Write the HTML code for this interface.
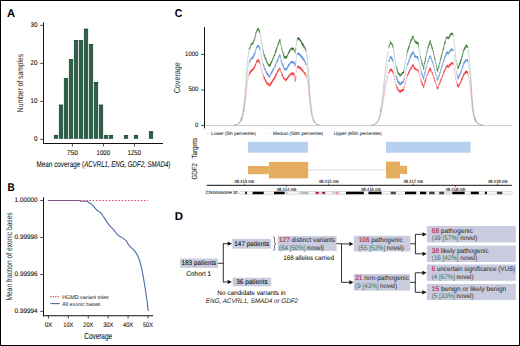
<!DOCTYPE html>
<html><head><meta charset="utf-8"><style>
html,body{margin:0;padding:0;background:#fff;}
body{width:520px;height:346px;overflow:hidden;}
svg{display:block;}
text{font-family:"Liberation Sans", sans-serif;text-rendering:geometricPrecision;}
</style></head><body>
<svg width="520" height="346" viewBox="0 0 520 346">
<rect x="0" y="0" width="520" height="346" fill="#fff"/>
<text x="7.00" y="16.60" font-size="11.3" textLength="8.10" lengthAdjust="spacingAndGlyphs" fill="#000" font-weight="bold">A</text>
<line x1="43.50" y1="22.40" x2="43.50" y2="144.00" stroke="#111" stroke-width="1.0"/>
<line x1="43.00" y1="143.50" x2="163.00" y2="143.50" stroke="#111" stroke-width="1.0"/>
<line x1="40.20" y1="25.40" x2="43.50" y2="25.40" stroke="#222" stroke-width="0.8"/>
<text x="37.40" y="26.80" font-size="6.8" stroke="#2a2a2a" stroke-width="0.08" textLength="6.90" lengthAdjust="spacingAndGlyphs" text-anchor="end">30</text>
<line x1="40.20" y1="63.40" x2="43.50" y2="63.40" stroke="#222" stroke-width="0.8"/>
<text x="37.40" y="64.80" font-size="6.8" stroke="#2a2a2a" stroke-width="0.08" textLength="6.90" lengthAdjust="spacingAndGlyphs" text-anchor="end">20</text>
<line x1="40.20" y1="101.40" x2="43.50" y2="101.40" stroke="#222" stroke-width="0.8"/>
<text x="37.40" y="102.80" font-size="6.8" stroke="#2a2a2a" stroke-width="0.08" textLength="6.90" lengthAdjust="spacingAndGlyphs" text-anchor="end">10</text>
<line x1="40.20" y1="139.40" x2="43.50" y2="139.40" stroke="#222" stroke-width="0.8"/>
<text x="37.40" y="140.80" font-size="6.8" stroke="#2a2a2a" stroke-width="0.08" textLength="3.45" lengthAdjust="spacingAndGlyphs" text-anchor="end">0</text>
<line x1="72.40" y1="143.50" x2="72.40" y2="146.50" stroke="#222" stroke-width="0.8"/>
<text x="72.30" y="154.50" font-size="6.9" stroke="#2a2a2a" stroke-width="0.08" textLength="11.00" lengthAdjust="spacingAndGlyphs" text-anchor="middle">750</text>
<line x1="103.40" y1="143.50" x2="103.40" y2="146.50" stroke="#222" stroke-width="0.8"/>
<text x="103.30" y="154.50" font-size="6.9" stroke="#2a2a2a" stroke-width="0.08" textLength="13.40" lengthAdjust="spacingAndGlyphs" text-anchor="middle">1000</text>
<line x1="134.40" y1="143.50" x2="134.40" y2="146.50" stroke="#222" stroke-width="0.8"/>
<text x="134.30" y="154.50" font-size="6.9" stroke="#2a2a2a" stroke-width="0.08" textLength="13.60" lengthAdjust="spacingAndGlyphs" text-anchor="middle">1250</text>
<text x="36.50" y="166.80" font-size="8.4" stroke="#2a2a2a" stroke-width="0.05" textLength="47.60" lengthAdjust="spacingAndGlyphs">Mean coverage (</text>
<text x="84.30" y="166.80" font-size="8.4" stroke="#2a2a2a" stroke-width="0.05" textLength="84.00" lengthAdjust="spacingAndGlyphs" font-style="italic">ACVRL1, ENG, GDF2, SMAD4</text>
<text x="168.30" y="166.80" font-size="8.4" stroke="#2a2a2a" stroke-width="0.05" textLength="2.20" lengthAdjust="spacingAndGlyphs">)</text>
<text x="23.20" y="112.20" font-size="8.4" stroke="#333" stroke-width="0.05" textLength="58.40" lengthAdjust="spacingAndGlyphs" fill="#333" transform="rotate(-90 23.20 112.20)">Number of samples</text>
<rect x="53.90" y="135.10" width="4.20" height="3.80" fill="#30604a"/>
<rect x="53.90" y="135.10" width="4.20" height="0.80" fill="#1f5039"/>
<rect x="58.90" y="104.73" width="4.20" height="34.17" fill="#30604a"/>
<rect x="58.90" y="104.73" width="4.20" height="0.80" fill="#1f5039"/>
<rect x="63.90" y="78.15" width="4.20" height="60.75" fill="#30604a"/>
<rect x="63.90" y="78.15" width="4.20" height="0.80" fill="#1f5039"/>
<rect x="68.90" y="59.16" width="4.20" height="79.74" fill="#30604a"/>
<rect x="68.90" y="59.16" width="4.20" height="0.80" fill="#1f5039"/>
<rect x="73.90" y="40.18" width="4.20" height="98.72" fill="#30604a"/>
<rect x="73.90" y="40.18" width="4.20" height="0.80" fill="#1f5039"/>
<rect x="78.90" y="40.18" width="4.20" height="98.72" fill="#30604a"/>
<rect x="78.90" y="40.18" width="4.20" height="0.80" fill="#1f5039"/>
<rect x="83.90" y="28.79" width="4.20" height="110.11" fill="#30604a"/>
<rect x="83.90" y="28.79" width="4.20" height="0.80" fill="#1f5039"/>
<rect x="88.90" y="43.98" width="4.20" height="94.92" fill="#30604a"/>
<rect x="88.90" y="43.98" width="4.20" height="0.80" fill="#1f5039"/>
<rect x="93.90" y="81.94" width="4.20" height="56.96" fill="#30604a"/>
<rect x="93.90" y="81.94" width="4.20" height="0.80" fill="#1f5039"/>
<rect x="98.90" y="104.73" width="4.20" height="34.17" fill="#30604a"/>
<rect x="98.90" y="104.73" width="4.20" height="0.80" fill="#1f5039"/>
<rect x="103.90" y="135.10" width="4.20" height="3.80" fill="#30604a"/>
<rect x="103.90" y="135.10" width="4.20" height="0.80" fill="#1f5039"/>
<rect x="108.90" y="135.10" width="4.20" height="3.80" fill="#30604a"/>
<rect x="108.90" y="135.10" width="4.20" height="0.80" fill="#1f5039"/>
<rect x="123.90" y="135.10" width="4.20" height="3.80" fill="#30604a"/>
<rect x="123.90" y="135.10" width="4.20" height="0.80" fill="#1f5039"/>
<rect x="133.90" y="135.10" width="4.20" height="3.80" fill="#30604a"/>
<rect x="133.90" y="135.10" width="4.20" height="0.80" fill="#1f5039"/>
<rect x="148.90" y="131.31" width="4.20" height="7.59" fill="#30604a"/>
<rect x="148.90" y="131.31" width="4.20" height="0.80" fill="#1f5039"/>
<text x="7.40" y="191.30" font-size="11.3" textLength="7.20" lengthAdjust="spacingAndGlyphs" fill="#000" font-weight="bold">B</text>
<line x1="43.50" y1="197.40" x2="43.50" y2="316.40" stroke="#111" stroke-width="1.0"/>
<line x1="43.00" y1="315.80" x2="153.10" y2="315.80" stroke="#111" stroke-width="1.1"/>
<line x1="40.20" y1="200.50" x2="43.50" y2="200.50" stroke="#222" stroke-width="0.8"/>
<text x="37.50" y="201.90" font-size="6.6" stroke="#2a2a2a" stroke-width="0.08" textLength="22.90" lengthAdjust="spacingAndGlyphs" text-anchor="end">1.00000</text>
<line x1="40.20" y1="237.50" x2="43.50" y2="237.50" stroke="#222" stroke-width="0.8"/>
<text x="37.50" y="238.90" font-size="6.6" stroke="#2a2a2a" stroke-width="0.08" textLength="22.90" lengthAdjust="spacingAndGlyphs" text-anchor="end">0.99998</text>
<line x1="40.20" y1="274.50" x2="43.50" y2="274.50" stroke="#222" stroke-width="0.8"/>
<text x="37.50" y="275.90" font-size="6.6" stroke="#2a2a2a" stroke-width="0.08" textLength="22.90" lengthAdjust="spacingAndGlyphs" text-anchor="end">0.99996</text>
<line x1="40.20" y1="311.40" x2="43.50" y2="311.40" stroke="#222" stroke-width="0.8"/>
<text x="37.50" y="312.80" font-size="6.6" stroke="#2a2a2a" stroke-width="0.08" textLength="22.90" lengthAdjust="spacingAndGlyphs" text-anchor="end">0.99994</text>
<line x1="48.45" y1="315.80" x2="48.45" y2="318.60" stroke="#222" stroke-width="0.8"/>
<text x="48.45" y="326.80" font-size="6.6" stroke="#2a2a2a" stroke-width="0.08" textLength="7.60" lengthAdjust="spacingAndGlyphs" text-anchor="middle">0X</text>
<line x1="68.35" y1="315.80" x2="68.35" y2="318.60" stroke="#222" stroke-width="0.8"/>
<text x="68.35" y="326.80" font-size="6.6" stroke="#2a2a2a" stroke-width="0.08" textLength="10.00" lengthAdjust="spacingAndGlyphs" text-anchor="middle">10X</text>
<line x1="88.25" y1="315.80" x2="88.25" y2="318.60" stroke="#222" stroke-width="0.8"/>
<text x="88.25" y="326.80" font-size="6.6" stroke="#2a2a2a" stroke-width="0.08" textLength="10.00" lengthAdjust="spacingAndGlyphs" text-anchor="middle">20X</text>
<line x1="108.15" y1="315.80" x2="108.15" y2="318.60" stroke="#222" stroke-width="0.8"/>
<text x="108.15" y="326.80" font-size="6.6" stroke="#2a2a2a" stroke-width="0.08" textLength="10.00" lengthAdjust="spacingAndGlyphs" text-anchor="middle">30X</text>
<line x1="128.05" y1="315.80" x2="128.05" y2="318.60" stroke="#222" stroke-width="0.8"/>
<text x="128.05" y="326.80" font-size="6.6" stroke="#2a2a2a" stroke-width="0.08" textLength="10.00" lengthAdjust="spacingAndGlyphs" text-anchor="middle">40X</text>
<line x1="147.95" y1="315.80" x2="147.95" y2="318.60" stroke="#222" stroke-width="0.8"/>
<text x="147.95" y="326.80" font-size="6.6" stroke="#2a2a2a" stroke-width="0.08" textLength="10.00" lengthAdjust="spacingAndGlyphs" text-anchor="middle">50X</text>
<text x="84.30" y="339.40" font-size="8.8" stroke="#2a2a2a" stroke-width="0.08" textLength="27.70" lengthAdjust="spacingAndGlyphs">Coverage</text>
<text x="12.10" y="300.50" font-size="8.4" stroke="#333" stroke-width="0.03" textLength="88.20" lengthAdjust="spacingAndGlyphs" fill="#333" transform="rotate(-90 12.10 300.50)">Mean fraction of exonic bases</text>
<path d="M48.10,200.50 L79.00,200.50 L80.50,201.20 L86.20,201.30 L87.70,201.80 L90.00,203.20 L92.00,204.60 L94.20,207.20 L96.40,209.70 L99.00,211.60 L101.30,213.30 L103.00,216.00 L105.00,218.90 L107.00,222.20 L109.40,225.30 L111.50,227.60 L113.70,229.60 L115.50,232.30 L117.50,234.60 L119.20,236.00 L121.00,236.90 L123.50,238.60 L126.10,240.60 L127.20,242.60 L128.20,244.30 L131.00,247.30 L133.90,250.10 L136.20,253.20 L138.30,257.10 L139.80,261.20 L141.20,266.60 L142.40,272.00 L143.50,278.20 L144.60,284.80 L145.60,291.00 L146.60,298.00 L147.40,304.00 L148.00,309.00 L148.40,311.20" fill="none" stroke="#4a6aa3" stroke-width="1.1" stroke-linejoin="round"/>
<line x1="47.90" y1="200.50" x2="147.80" y2="200.50" stroke="#d23a52" stroke-width="1.1" stroke-dasharray="1.4 1.8"/>
<line x1="50.40" y1="296.60" x2="60.00" y2="296.60" stroke="#d23a52" stroke-width="1.1" stroke-dasharray="1.2 1.2"/>
<line x1="50.40" y1="303.60" x2="59.80" y2="303.60" stroke="#4a6aa3" stroke-width="1.1"/>
<text x="62.20" y="298.50" font-size="5.3" stroke="#333" stroke-width="0.05" textLength="46.40" lengthAdjust="spacingAndGlyphs" fill="#333">HGMD variant sites</text>
<text x="62.20" y="305.60" font-size="5.3" stroke="#333" stroke-width="0.05" textLength="38.30" lengthAdjust="spacingAndGlyphs" fill="#333">All exonic bases</text>
<text x="174.70" y="16.80" font-size="11.3" textLength="7.60" lengthAdjust="spacingAndGlyphs" fill="#000" font-weight="bold">C</text>
<line x1="204.50" y1="27.20" x2="204.50" y2="128.40" stroke="#111" stroke-width="1.0"/>
<line x1="201.00" y1="54.40" x2="204.50" y2="54.40" stroke="#222" stroke-width="0.8"/>
<text x="198.40" y="55.60" font-size="6.5" stroke="#2a2a2a" stroke-width="0.08" textLength="13.30" lengthAdjust="spacingAndGlyphs" text-anchor="end">1000</text>
<line x1="201.00" y1="90.00" x2="204.50" y2="90.00" stroke="#222" stroke-width="0.8"/>
<text x="198.40" y="91.20" font-size="6.5" stroke="#2a2a2a" stroke-width="0.08" textLength="10.00" lengthAdjust="spacingAndGlyphs" text-anchor="end">500</text>
<line x1="201.00" y1="125.40" x2="204.50" y2="125.40" stroke="#222" stroke-width="0.8"/>
<text x="198.40" y="126.60" font-size="6.5" stroke="#2a2a2a" stroke-width="0.08" textLength="3.30" lengthAdjust="spacingAndGlyphs" text-anchor="end">0</text>
<text x="180.10" y="93.30" font-size="8.6" stroke="#333" stroke-width="0.04" textLength="31.00" lengthAdjust="spacingAndGlyphs" fill="#333" transform="rotate(-90 180.10 93.30)">Coverage</text>
<defs><clipPath id="cu"><rect x="200" y="0" width="320" height="112"/></clipPath><clipPath id="cl"><rect x="200" y="112" width="320" height="20"/></clipPath></defs>
<line x1="205.60" y1="125.60" x2="512.70" y2="125.60" stroke="#c2c8c4" stroke-width="0.9"/>
<path d="M241.6,121.6 L241.8,119.5 L242.1,119.8 M249.3,74.3 L249.6,75.4 L249.8,73.0 L250.1,73.9 L250.3,72.0 L250.6,73.3 L250.8,71.1 L251.1,72.8 L251.3,70.7 L251.6,72.2 L251.8,70.4 L252.1,71.2 L252.3,70.0 L252.6,71.1 L252.8,69.7 L253.1,70.6 L253.3,69.1 L253.6,70.2 L253.8,68.3 L254.1,69.3 L254.3,67.2 L254.6,68.5 L254.8,66.5 L255.1,66.9 L255.3,65.1 L255.6,66.3 L255.8,63.9 L256.1,63.8 L256.4,62.6 L256.6,63.1 L256.9,61.2 L257.1,63.0 L257.4,61.3 L257.6,62.4 L257.9,60.6 L258.1,62.1 L258.4,60.2 L258.6,61.6 L258.9,60.4 L259.1,63.0 L259.4,61.9 L259.6,63.5 M263.9,77.2 L264.1,79.4 L264.4,77.9 L264.6,80.1 L264.9,79.5 L265.1,81.0 L265.4,80.2 L265.6,82.4 L265.9,81.3 L266.1,83.2 L266.4,82.0 L266.6,83.8 L266.9,83.3 L267.1,84.8 L267.4,83.5 L267.6,84.8 L267.9,83.7 L268.1,85.4 L268.4,84.1 L268.6,85.9 L268.9,85.0 L269.1,86.8 L269.4,85.5 L269.6,86.5 L269.9,85.3 L270.1,86.3 L270.4,84.1 L270.6,85.6 L270.9,83.3 L271.1,85.0 L271.4,82.7 L271.6,83.9 L271.9,81.9 L272.1,82.9 L272.4,81.6 L272.6,82.5 L272.9,80.4 L273.1,81.6 L273.4,79.7 L273.6,80.7 L273.9,78.9 L274.1,80.3 L274.4,78.0 L274.6,79.3 L274.9,77.2 L275.1,78.5 L275.4,76.0 L275.6,77.3 L275.9,74.9 L276.1,76.2 L276.4,74.2 L276.6,74.9 L276.9,73.4 L277.1,74.1 L277.4,72.2 L277.6,72.8 L277.9,70.9 L278.1,72.1 L278.4,70.4 L278.6,71.5 L278.9,69.9 L279.1,70.8 L279.4,68.9 L279.6,69.4 L279.9,68.4 L280.1,70.4 L280.4,70.2 M281.9,74.1 L282.1,76.6 L282.4,75.2 L282.6,77.2 L282.9,76.2 L283.1,78.1 L283.4,77.7 L283.6,79.2 L283.9,78.2 L284.1,80.0 L284.4,79.1 L284.6,80.3 L284.9,79.7 L285.1,80.5 L285.4,79.7 L285.6,81.5 L285.9,80.1 L286.1,81.1 L286.4,79.8 L286.6,80.5 L286.9,79.0 L287.1,80.1 L287.4,78.0 L287.6,79.3 L287.9,77.7 L288.1,78.6 L288.4,76.9 L288.6,77.7 L288.9,76.4 L289.1,77.4 L289.4,75.3 L289.6,76.7 L289.9,75.5 L290.1,75.8 L290.4,74.8 L290.6,76.1 L290.9,74.1 L291.1,75.0 L291.4,73.4 L291.6,74.3 L291.9,73.7 L292.1,75.4 L292.4,73.5 L292.6,75.5 L292.9,73.6 L293.1,75.2 L293.4,73.8 L293.6,75.5 L293.9,73.8 L294.1,75.7 L294.4,75.5 L294.6,77.6 L294.9,78.0 L295.1,82.0 L295.4,82.0 M297.4,67.7 L297.6,68.1 L297.9,66.3 L298.1,68.0 L298.4,67.1 L298.6,68.3 L298.9,67.5 L299.1,69.0 L299.4,67.4 L299.6,68.7 L299.9,67.6 L300.1,69.7 L300.4,67.8 L300.6,69.8 L300.9,68.5 L301.1,70.7 L301.4,69.5 L301.6,71.0 L301.9,70.0 L302.1,71.3 L302.4,70.6 L302.6,71.9 L302.9,70.7 L303.1,72.4 L303.4,71.8 L303.6,73.2 L303.9,72.6 L304.1,73.5 L304.4,73.2 L304.6,74.5 L304.9,73.2 L305.1,75.3 L305.4,73.9 L305.6,75.7 L305.9,75.4 M389.1,73.7 L389.4,71.7 L389.6,72.3 L389.9,70.6 L390.1,71.6 L390.4,69.5 L390.6,71.2 L390.9,70.2 L391.1,71.3 L391.4,69.7 L391.6,71.6 L391.9,70.3 L392.1,72.2 L392.4,71.4 L392.6,73.0 M396.6,87.9 L396.9,87.6 L397.1,89.1 L397.4,87.8 L397.6,90.4 L397.9,89.7 L398.1,91.1 L398.4,90.7 L398.6,91.5 L398.9,90.7 L399.1,92.1 L399.4,91.3 L399.6,92.3 L399.9,91.3 L400.1,93.4 L400.4,91.3 L400.6,92.2 L400.9,91.3 L401.1,92.7 L401.4,90.7 L401.6,91.8 L401.9,90.6 L402.1,92.3 L402.4,90.2 L402.6,91.4 L402.9,89.8 L403.1,91.3 L403.4,89.8 L403.6,90.9 L403.9,88.6 M407.6,76.2 L407.9,74.6 L408.1,75.5 L408.4,73.5 L408.6,74.6 L408.9,72.3 L409.1,73.6 L409.4,71.4 L409.6,72.1 L409.9,70.4 L410.1,71.2 L410.4,69.8 L410.6,70.3 L410.9,68.2 L411.1,69.2 L411.4,68.2 L411.6,69.1 L411.9,67.4 L412.1,67.8 L412.4,65.8 L412.6,67.1 L412.9,65.2 L413.1,66.4 L413.4,65.5 L413.6,67.4 L413.9,66.9 L414.1,68.3 L414.4,68.0 L414.6,70.0 L414.9,68.4 L415.1,70.1 L415.4,69.4 L415.6,70.4 L415.9,69.3 L416.1,70.2 L416.4,69.9 L416.6,70.9 L416.9,70.1 L417.1,70.7 L417.4,70.0 L417.6,71.0 L417.9,69.9 L418.1,71.5 L418.4,71.0 M421.6,83.5 L421.9,82.7 L422.1,85.6 L422.4,84.3 L422.6,85.9 L422.9,85.3 L423.1,86.9 L423.4,86.6 L423.6,88.8 L423.9,86.3 L424.1,86.6 M427.4,74.8 L427.6,75.2 L427.9,73.8 L428.1,74.1 L428.4,72.8 L428.6,72.9 L428.9,71.4 L429.1,72.5 L429.4,69.7 L429.6,70.6 L429.9,68.7 L430.1,69.4 L430.4,68.6 L430.6,71.4 L430.9,70.0 L431.1,72.1 L431.4,71.8 L431.6,72.7 L431.9,72.6 L432.1,74.0 L432.4,73.3 L432.6,75.4 L432.9,75.4 M436.6,87.3 L436.9,87.2 L437.1,89.3 L437.4,88.4 L437.6,89.7 L437.9,87.6 L438.1,88.5 L438.4,86.6 L438.6,86.6 L438.9,85.4 L439.1,85.4 L439.4,84.3 L439.6,85.1 L439.9,82.9 L440.1,83.5 L440.4,81.3 L440.6,82.0 L440.9,79.7 L441.1,80.6 L441.4,79.2 L441.6,79.3 L441.9,77.8 L442.1,78.2 L442.4,76.5 L442.6,77.0 L442.9,75.1 L443.1,75.6 L443.4,73.6 L443.6,74.0 L443.9,72.3 L444.1,73.1 L444.4,70.9 L444.6,72.1 L444.9,70.0 L445.1,70.5 L445.4,68.9 L445.6,69.6 L445.9,67.4 L446.1,68.4 L446.4,67.0 L446.6,67.9 L446.9,66.4 L447.1,67.0 L447.4,65.6 L447.6,67.7 L447.9,66.2 L448.1,68.0 L448.4,67.0 L448.6,68.4 L448.9,66.4 L449.1,66.9 L449.4,65.7 L449.6,66.5 L449.9,64.7 L450.1,66.6 L450.4,64.5 L450.6,65.8 L450.9,64.4 L451.1,65.0 L451.4,63.4 L451.6,64.6 L451.9,63.4 L452.1,65.1 L452.4,63.2 L452.6,64.6 L452.9,63.5 M457.4,84.8 L457.6,87.2 L457.9,86.7 L458.1,88.0 L458.4,86.3 L458.6,87.7 L458.9,85.3 L459.1,86.4 L459.4,84.3 L459.6,85.5 L459.9,83.9 L460.1,84.1 L460.4,82.9 L460.6,83.5 L460.9,81.7 L461.1,82.6 L461.4,80.3 L461.6,81.3 L461.9,79.0 L462.1,80.1 L462.4,78.2 L462.6,78.7 L462.9,76.9 L463.1,77.7 L463.4,75.3 L463.6,76.3 L463.9,74.3 L464.1,75.3 L464.4,73.8 L464.6,74.8 L464.9,73.3 L465.1,74.4 L465.4,72.3 L465.6,73.8 L465.9,72.0 L466.1,73.7 L466.4,71.6 L466.6,73.0 L466.9,71.6 L467.1,73.7 L467.4,72.3 L467.6,74.6 M474.6,120.3 L474.9,119.9 L475.1,121.6" fill="none" stroke="#f6a0a0" stroke-width="0.6" stroke-linejoin="round" opacity="0.8"/>
<path d="M233.6,125.2 L233.8,125.1 L234.1,125.1 L234.3,125.0 L234.6,125.1 L234.8,125.0 L235.1,125.0 L235.3,125.0 L235.6,125.0 L235.8,124.9 L236.1,124.9 L236.3,124.8 L236.6,124.8 L236.8,124.6 L237.1,124.6 L237.3,124.4 L237.6,124.3 L237.8,124.0 L238.1,124.1 L238.3,123.8 L238.6,123.9 L238.8,123.5 L239.1,123.6 L239.3,123.3 L239.6,123.3 L239.8,122.5 L240.1,122.5 L240.3,121.9 L240.6,121.6 L240.8,120.7 L241.1,121.1 L241.3,120.0 L241.6,120.7 L241.8,118.6 L242.1,118.9 L242.3,117.1 L242.6,117.8 M249.1,74.8 L249.3,73.4 L249.6,74.5 L249.8,72.1 L250.1,73.0 L250.3,71.1 L250.6,72.4 L250.8,70.2 L251.1,71.9 L251.3,69.8 L251.6,71.3 L251.8,69.5 L252.1,70.3 L252.3,69.1 L252.6,70.2 L252.8,68.8 L253.1,69.7 L253.3,68.2 L253.6,69.3 L253.8,67.4 L254.1,68.4 L254.3,66.3 L254.6,67.6 L254.8,65.6 L255.1,66.0 L255.3,64.2 L255.6,65.4 L255.8,63.0 L256.1,62.9 L256.4,61.7 L256.6,62.2 L256.9,60.3 L257.1,62.1 L257.4,60.4 L257.6,61.5 L257.9,59.7 L258.1,61.2 L258.4,59.3 L258.6,60.7 L258.9,59.5 L259.1,62.1 L259.4,61.0 L259.6,62.6 L259.9,62.5 L260.1,64.2 M262.9,73.3 L263.1,75.3 L263.4,75.5 L263.6,76.9 L263.9,76.3 L264.1,78.5 L264.4,77.0 L264.6,79.2 L264.9,78.6 L265.1,80.1 L265.4,79.3 L265.6,81.5 L265.9,80.4 L266.1,82.3 L266.4,81.1 L266.6,82.9 L266.9,82.4 L267.1,83.9 L267.4,82.6 L267.6,83.9 L267.9,82.8 L268.1,84.5 L268.4,83.2 L268.6,85.0 L268.9,84.1 L269.1,85.9 L269.4,84.6 L269.6,85.6 L269.9,84.4 L270.1,85.4 L270.4,83.2 L270.6,84.7 L270.9,82.4 L271.1,84.1 L271.4,81.8 L271.6,83.0 L271.9,81.0 L272.1,82.0 L272.4,80.7 L272.6,81.6 L272.9,79.5 L273.1,80.7 L273.4,78.8 L273.6,79.8 L273.9,78.0 L274.1,79.4 L274.4,77.1 L274.6,78.4 L274.9,76.3 L275.1,77.6 L275.4,75.1 L275.6,76.4 L275.9,74.0 L276.1,75.3 L276.4,73.3 L276.6,74.0 L276.9,72.5 L277.1,73.2 L277.4,71.3 L277.6,71.9 L277.9,70.0 L278.1,71.2 L278.4,69.5 L278.6,70.6 L278.9,69.0 L279.1,69.9 L279.4,68.0 L279.6,68.5 L279.9,67.5 L280.1,69.5 L280.4,69.3 L280.6,71.3 L280.9,71.0 L281.1,72.6 L281.4,72.2 L281.6,74.2 L281.9,73.2 L282.1,75.7 L282.4,74.3 L282.6,76.3 L282.9,75.3 L283.1,77.2 L283.4,76.8 L283.6,78.3 L283.9,77.3 L284.1,79.1 L284.4,78.2 L284.6,79.4 L284.9,78.8 L285.1,79.6 L285.4,78.8 L285.6,80.6 L285.9,79.2 L286.1,80.2 L286.4,78.9 L286.6,79.6 L286.9,78.1 L287.1,79.2 L287.4,77.1 L287.6,78.4 L287.9,76.8 L288.1,77.7 L288.4,76.0 L288.6,76.8 L288.9,75.5 L289.1,76.5 L289.4,74.4 L289.6,75.8 L289.9,74.6 L290.1,74.9 L290.4,73.9 L290.6,75.2 L290.9,73.2 L291.1,74.1 L291.4,72.5 L291.6,73.4 L291.9,72.8 L292.1,74.5 L292.4,72.6 L292.6,74.6 L292.9,72.7 L293.1,74.3 L293.4,72.9 L293.6,74.6 L293.9,72.9 L294.1,74.8 L294.4,74.6 L294.6,76.7 L294.9,77.1 L295.1,81.1 L295.4,81.1 L295.6,80.2 L295.9,75.6 M296.9,68.4 L297.1,68.4 L297.4,66.8 L297.6,67.2 L297.9,65.4 L298.1,67.1 L298.4,66.2 L298.6,67.4 L298.9,66.6 L299.1,68.1 L299.4,66.5 L299.6,67.8 L299.9,66.7 L300.1,68.8 L300.4,66.9 L300.6,68.9 L300.9,67.6 L301.1,69.8 L301.4,68.6 L301.6,70.1 L301.9,69.1 L302.1,70.4 L302.4,69.7 L302.6,71.0 L302.9,69.8 L303.1,71.5 L303.4,70.9 L303.6,72.3 L303.9,71.7 L304.1,72.6 L304.4,72.3 L304.6,73.6 L304.9,72.3 L305.1,74.4 L305.4,73.0 L305.6,74.8 L305.9,74.5 L306.1,76.6 L306.4,75.2 M312.6,119.2 L312.9,118.8 L313.1,120.4 L313.4,120.0 L313.6,121.4 L313.9,121.5 L314.1,122.3 L314.4,122.3 L314.6,123.0 L314.9,122.7 L315.1,123.3 L315.4,123.3 L315.6,123.9 L315.9,123.9 L316.1,124.2 L316.4,124.3 L316.6,124.5 L316.9,124.4 L317.1,124.6 L317.4,124.6 L317.6,124.7 L317.9,124.7 L318.1,124.9 L318.4,124.9 L318.6,125.0 L318.9,125.0 L319.1,125.1 L319.4,125.1 L319.6,125.1 M371.4,125.1 L371.6,125.1 L371.9,125.1 L372.1,125.1 L372.4,125.0 L372.6,125.0 L372.9,124.9 L373.1,124.9 L373.4,124.8 L373.6,124.8 L373.9,124.6 L374.1,124.7 L374.4,124.6 L374.6,124.6 L374.9,124.4 L375.1,124.4 L375.4,124.1 L375.6,124.1 L375.9,123.8 L376.1,123.8 L376.4,123.5 L376.6,123.4 L376.9,123.1 L377.1,123.1 L377.4,122.4 L377.6,122.4 L377.9,121.7 L378.1,121.9 L378.4,120.9 L378.6,121.1 L378.9,120.5 L379.1,120.3 L379.4,118.6 L379.6,118.8 L379.9,117.2 L380.1,117.3 M388.4,73.4 L388.6,73.8 L388.9,72.1 L389.1,72.8 L389.4,70.8 L389.6,71.4 L389.9,69.7 L390.1,70.7 L390.4,68.6 L390.6,70.3 L390.9,69.3 L391.1,70.4 L391.4,68.8 L391.6,70.7 L391.9,69.4 L392.1,71.3 L392.4,70.5 L392.6,72.1 L392.9,71.1 L393.1,73.8 L393.4,72.3 M395.9,84.0 L396.1,85.7 L396.4,85.1 L396.6,87.0 L396.9,86.7 L397.1,88.2 L397.4,86.9 L397.6,89.5 L397.9,88.8 L398.1,90.2 L398.4,89.8 L398.6,90.6 L398.9,89.8 L399.1,91.2 L399.4,90.4 L399.6,91.4 L399.9,90.4 L400.1,92.5 L400.4,90.4 L400.6,91.3 L400.9,90.4 L401.1,91.8 L401.4,89.8 L401.6,90.9 L401.9,89.7 L402.1,91.4 L402.4,89.3 L402.6,90.5 L402.9,88.9 L403.1,90.4 L403.4,88.9 L403.6,90.0 L403.9,87.7 L404.1,88.0 L404.4,85.9 M406.4,78.9 L406.6,78.9 L406.9,76.8 L407.1,77.2 L407.4,74.6 L407.6,75.3 L407.9,73.7 L408.1,74.6 L408.4,72.6 L408.6,73.7 L408.9,71.4 L409.1,72.7 L409.4,70.5 L409.6,71.2 L409.9,69.5 L410.1,70.3 L410.4,68.9 L410.6,69.4 L410.9,67.3 L411.1,68.3 L411.4,67.3 L411.6,68.2 L411.9,66.5 L412.1,66.9 L412.4,64.9 L412.6,66.2 L412.9,64.3 L413.1,65.5 L413.4,64.6 L413.6,66.5 L413.9,66.0 L414.1,67.4 L414.4,67.1 L414.6,69.1 L414.9,67.5 L415.1,69.2 L415.4,68.5 L415.6,69.5 L415.9,68.4 L416.1,69.3 L416.4,69.0 L416.6,70.0 L416.9,69.2 L417.1,69.8 L417.4,69.1 L417.6,70.1 L417.9,69.0 L418.1,70.6 L418.4,70.1 L418.6,72.8 L418.9,72.4 M420.4,78.4 L420.6,79.7 L420.9,79.8 L421.1,82.0 L421.4,81.0 L421.6,82.6 L421.9,81.8 L422.1,84.7 L422.4,83.4 L422.6,85.0 L422.9,84.4 L423.1,86.0 L423.4,85.7 L423.6,87.9 L423.9,85.4 L424.1,85.7 L424.4,84.0 L424.6,84.6 L424.9,81.5 L425.1,82.2 L425.4,79.9 L425.6,81.2 L425.9,78.2 L426.1,78.8 L426.4,76.8 L426.6,76.6 L426.9,75.3 L427.1,76.0 L427.4,73.9 L427.6,74.3 L427.9,72.9 L428.1,73.2 L428.4,71.9 L428.6,72.0 L428.9,70.5 L429.1,71.6 L429.4,68.8 L429.6,69.7 L429.9,67.8 L430.1,68.5 L430.4,67.7 L430.6,70.5 L430.9,69.1 L431.1,71.2 L431.4,70.9 L431.6,71.8 L431.9,71.7 L432.1,73.1 L432.4,72.4 L432.6,74.5 L432.9,74.5 L433.1,75.7 L433.4,75.3 L433.6,77.5 L433.9,76.9 L434.1,78.8 L434.4,78.1 L434.6,80.9 L434.9,80.2 L435.1,82.1 L435.4,81.4 L435.6,83.4 L435.9,83.5 L436.1,84.8 L436.4,84.8 L436.6,86.4 L436.9,86.3 L437.1,88.4 L437.4,87.5 L437.6,88.8 L437.9,86.7 L438.1,87.6 L438.4,85.7 L438.6,85.7 L438.9,84.5 L439.1,84.5 L439.4,83.4 L439.6,84.2 L439.9,82.0 L440.1,82.6 L440.4,80.4 L440.6,81.1 L440.9,78.8 L441.1,79.7 L441.4,78.3 L441.6,78.4 L441.9,76.9 L442.1,77.3 L442.4,75.6 L442.6,76.1 L442.9,74.2 L443.1,74.7 L443.4,72.7 L443.6,73.1 L443.9,71.4 L444.1,72.2 L444.4,70.0 L444.6,71.2 L444.9,69.1 L445.1,69.6 L445.4,68.0 L445.6,68.7 L445.9,66.5 L446.1,67.5 L446.4,66.1 L446.6,67.0 L446.9,65.5 L447.1,66.1 L447.4,64.7 L447.6,66.8 L447.9,65.3 L448.1,67.1 L448.4,66.1 L448.6,67.5 L448.9,65.5 L449.1,66.0 L449.4,64.8 L449.6,65.6 L449.9,63.8 L450.1,65.7 L450.4,63.6 L450.6,64.9 L450.9,63.5 L451.1,64.1 L451.4,62.5 L451.6,63.7 L451.9,62.5 L452.1,64.2 L452.4,62.3 L452.6,63.7 L452.9,62.6 L453.1,65.1 L453.4,64.8 M456.9,82.3 L457.1,85.2 L457.4,83.9 L457.6,86.3 L457.9,85.8 L458.1,87.1 L458.4,85.4 L458.6,86.8 L458.9,84.4 L459.1,85.5 L459.4,83.4 L459.6,84.6 L459.9,83.0 L460.1,83.2 L460.4,82.0 L460.6,82.6 L460.9,80.8 L461.1,81.7 L461.4,79.4 L461.6,80.4 L461.9,78.1 L462.1,79.2 L462.4,77.3 L462.6,77.8 L462.9,76.0 L463.1,76.8 L463.4,74.4 L463.6,75.4 L463.9,73.4 L464.1,74.4 L464.4,72.9 L464.6,73.9 L464.9,72.4 L465.1,73.5 L465.4,71.4 L465.6,72.9 L465.9,71.1 L466.1,72.8 L466.4,70.7 L466.6,72.1 L466.9,70.7 L467.1,72.8 L467.4,71.4 L467.6,73.7 L467.9,72.2 M474.1,117.9 L474.4,118.0 L474.6,119.4 L474.9,119.0 L475.1,120.7 L475.4,120.4 L475.6,121.7 L475.9,121.1 L476.1,122.0 L476.4,122.0 L476.6,122.7 L476.9,122.5 L477.1,123.2 L477.4,123.3 L477.6,123.8 L477.9,123.7 L478.1,123.9 L478.4,123.9 L478.6,124.2 L478.9,124.3 L479.1,124.4 L479.4,124.5 L479.6,124.7 L479.9,124.7 L480.1,124.9 L480.4,124.8 L480.6,124.9 L480.9,124.9 L481.1,125.0 L481.4,125.0 L481.6,125.0 L481.9,125.0 L482.1,125.1 L482.4,125.1 L482.6,125.1 L482.9,125.1" fill="none" stroke="#f01818" stroke-width="0.45" stroke-linejoin="round" clip-path="url(#cu)"/>
<path d="M242.6,117.8 L242.8,116.0 L243.1,116.0 L243.3,113.9 L243.6,114.2 L243.8,111.3 L244.1,111.7 L244.3,108.5 L244.6,108.0 L244.8,104.3 L245.1,104.2 L245.3,100.8 L245.6,99.5 L245.8,96.4 L246.1,95.4 L246.3,92.4 L246.6,91.2 L246.8,87.9 L247.1,86.6 L247.3,83.0 L247.6,83.1 L247.8,79.9 L248.1,79.4 L248.3,76.8 L248.6,77.1 L248.8,74.0 M260.4,64.1 L260.6,66.3 L260.9,65.9 L261.1,68.7 L261.4,68.3 L261.6,70.6 L261.9,69.6 L262.1,71.7 L262.4,72.1 L262.6,74.0 M296.1,73.4 L296.4,70.1 L296.6,70.4 L296.9,68.4 M306.6,77.8 L306.9,76.6 L307.1,79.7 L307.4,79.7 L307.6,82.8 L307.9,82.5 L308.1,86.4 L308.4,87.5 L308.6,91.2 L308.9,92.7 L309.1,96.5 L309.4,97.6 L309.6,101.8 L309.9,103.1 L310.1,105.8 L310.4,106.4 L310.6,109.7 L310.9,110.1 L311.1,113.2 L311.4,112.6 L311.6,115.6 L311.9,114.9 L312.1,117.4 L312.4,117.5 M380.1,117.3 L380.4,114.8 L380.6,115.6 L380.9,113.2 L381.1,113.5 L381.4,110.9 L381.6,111.2 L381.9,108.2 L382.1,108.3 L382.4,105.9 L382.6,105.2 L382.9,102.5 L383.1,102.5 L383.4,99.8 L383.6,99.9 L383.9,96.8 L384.1,96.6 L384.4,93.3 L384.6,93.8 L384.9,90.2 L385.1,90.3 L385.4,87.3 L385.6,87.5 L385.9,84.7 L386.1,84.9 L386.4,82.3 L386.6,82.3 L386.9,79.8 L387.1,79.6 L387.4,77.4 L387.6,77.9 L387.9,75.3 L388.1,76.0 M393.4,72.3 L393.6,75.4 L393.9,74.6 L394.1,77.4 L394.4,76.8 L394.6,79.8 L394.9,79.0 L395.1,82.2 L395.4,81.5 L395.6,84.5 M404.6,85.8 L404.9,83.5 L405.1,84.4 L405.4,81.9 L405.6,82.5 L405.9,80.3 L406.1,80.7 L406.4,78.9 M418.9,72.4 L419.1,74.1 L419.4,74.3 L419.6,76.1 L419.9,75.5 L420.1,78.8 L420.4,78.4 M424.6,84.6 L424.9,81.5 L425.1,82.2 L425.4,79.9 L425.6,81.2 L425.9,78.2 L426.1,78.8 M453.6,67.5 L453.9,67.4 L454.1,69.4 L454.4,69.6 L454.6,72.1 L454.9,73.0 L455.1,75.3 L455.4,75.8 L455.6,79.5 L455.9,79.1 L456.1,81.6 L456.4,81.0 L456.6,83.3 M468.1,73.9 L468.4,73.7 L468.6,77.0 L468.9,77.1 L469.1,79.5 L469.4,79.9 L469.6,82.5 L469.9,83.3 L470.1,86.8 L470.4,87.2 L470.6,90.3 L470.9,91.6 L471.1,96.4 L471.4,97.5 L471.6,101.5 L471.9,103.0 L472.1,106.8 L472.4,108.3 L472.6,111.3 L472.9,111.9 L473.1,114.2 L473.4,114.4 L473.6,116.5 L473.9,116.0" fill="none" stroke="#f01818" stroke-width="0.45" stroke-linejoin="round" opacity="0.5" clip-path="url(#cu)"/>
<path d="M241.6,120.4 L241.8,118.3 L242.1,118.2 M249.3,62.6 L249.6,63.1 L249.8,61.2 L250.1,62.1 L250.3,60.6 L250.6,61.2 L250.8,59.1 L251.1,60.2 L251.3,58.8 L251.6,59.6 L251.8,58.6 L252.1,59.6 L252.3,57.7 L252.6,59.1 L252.8,57.6 L253.1,58.6 L253.3,56.4 L253.6,57.8 L253.8,55.8 L254.1,56.5 L254.3,54.0 L254.6,55.2 L254.8,53.4 L255.1,54.1 L255.3,51.6 L255.6,51.9 L255.8,50.4 L256.1,50.4 L256.4,48.3 L256.6,48.7 L256.9,47.2 L257.1,48.3 L257.4,46.7 L257.6,47.9 L257.9,45.8 L258.1,46.8 L258.4,45.9 L258.6,47.1 L258.9,46.1 L259.1,48.7 L259.4,47.9 L259.6,49.7 M263.9,66.5 L264.1,68.6 L264.4,68.0 L264.6,69.9 L264.9,69.1 L265.1,70.7 L265.4,70.2 L265.6,71.7 L265.9,71.1 L266.1,73.2 L266.4,72.5 L266.6,74.5 L266.9,73.0 L267.1,75.3 L267.4,74.3 L267.6,75.7 L267.9,74.2 L268.1,76.4 L268.4,75.6 L268.6,77.1 L268.9,76.1 L269.1,78.1 L269.4,76.5 L269.6,77.6 L269.9,76.6 L270.1,76.9 L270.4,75.3 L270.6,75.6 L270.9,73.7 L271.1,74.8 L271.4,73.3 L271.6,74.1 L271.9,72.2 L272.1,73.2 L272.4,71.7 L272.6,72.2 L272.9,70.2 L273.1,71.4 L273.4,69.3 L273.6,70.7 L273.9,68.8 L274.1,68.9 L274.4,67.7 L274.6,67.9 L274.9,66.7 L275.1,67.7 L275.4,65.1 L275.6,66.1 L275.9,64.5 L276.1,64.7 L276.4,62.7 L276.6,63.4 L276.9,61.8 L277.1,62.5 L277.4,60.3 L277.6,61.7 L277.9,59.6 L278.1,60.4 L278.4,58.6 L278.6,58.6 L278.9,57.2 L279.1,58.2 L279.4,55.9 L279.6,56.7 L279.9,55.2 L280.1,57.4 L280.4,57.2 M281.9,62.7 L282.1,65.3 L282.4,64.3 L282.6,66.4 L282.9,65.2 L283.1,67.5 L283.4,66.3 L283.6,68.6 L283.9,68.1 L284.1,70.1 L284.4,69.0 L284.6,70.7 L284.9,69.2 L285.1,70.6 L285.4,69.7 L285.6,70.7 L285.9,69.5 L286.1,70.9 L286.4,68.9 L286.6,70.5 L286.9,68.3 L287.1,69.1 L287.4,67.3 L287.6,68.5 L287.9,67.0 L288.1,67.5 L288.4,65.8 L288.6,66.9 L288.9,64.7 L289.1,66.1 L289.4,64.9 L289.6,65.2 L289.9,64.1 L290.1,65.0 L290.4,63.2 L290.6,63.9 L290.9,62.4 L291.1,63.5 L291.4,61.7 L291.6,63.5 L291.9,62.1 L292.1,63.3 L292.4,62.5 L292.6,63.5 L292.9,62.0 L293.1,63.7 L293.4,62.5 L293.6,64.1 L293.9,63.2 L294.1,64.3 L294.4,63.3 L294.6,65.2 L294.9,64.6 L295.1,66.7 L295.4,65.1 M297.4,54.4 L297.6,55.0 L297.9,53.7 L298.1,54.7 L298.4,53.5 L298.6,55.2 L298.9,54.4 L299.1,55.9 L299.4,54.1 L299.6,56.0 L299.9,55.0 L300.1,56.1 L300.4,55.1 L300.6,57.1 L300.9,56.1 L301.1,57.7 L301.4,56.3 L301.6,58.2 L301.9,57.3 L302.1,59.2 L302.4,57.6 L302.6,59.9 L302.9,58.5 L303.1,60.6 L303.4,59.2 L303.6,60.8 L303.9,60.5 L304.1,61.8 L304.4,60.5 L304.6,62.6 L304.9,61.9 L305.1,63.0 L305.4,62.6 L305.6,65.1 L305.9,64.0 M389.1,62.0 L389.4,59.8 L389.6,60.4 L389.9,58.4 L390.1,58.6 L390.4,56.7 L390.6,58.8 L390.9,57.6 L391.1,58.5 L391.4,57.6 L391.6,59.7 L391.9,58.2 L392.1,60.4 L392.4,59.6 L392.6,61.5 M396.6,79.4 L396.9,78.3 L397.1,80.7 L397.4,79.7 L397.6,82.7 L397.9,81.9 L398.1,83.5 L398.4,81.9 L398.6,83.9 L398.9,82.5 L399.1,84.4 L399.4,83.2 L399.6,85.2 L399.9,84.3 L400.1,85.7 L400.4,84.0 L400.6,85.3 L400.9,83.7 L401.1,84.7 L401.4,83.3 L401.6,84.8 L401.9,82.5 L402.1,83.6 L402.4,82.6 L402.6,83.7 L402.9,81.8 L403.1,83.0 L403.4,81.9 L403.6,82.5 L403.9,80.0 M407.6,65.6 L407.9,63.9 L408.1,64.4 L408.4,62.4 L408.6,63.0 L408.9,60.6 L409.1,61.8 L409.4,59.8 L409.6,60.0 L409.9,57.9 L410.1,58.7 L410.4,56.9 L410.6,57.8 L410.9,55.3 L411.1,57.0 L411.4,54.7 L411.6,56.3 L411.9,53.8 L412.1,55.1 L412.4,53.1 L412.6,53.9 L412.9,52.4 L413.1,52.7 L413.4,52.4 L413.6,54.6 L413.9,53.6 L414.1,55.6 L414.4,55.1 L414.6,57.4 L414.9,56.4 L415.1,58.0 L415.4,56.5 L415.6,58.0 L415.9,56.4 L416.1,58.2 L416.4,57.0 L416.6,57.9 L416.9,57.2 L417.1,58.7 L417.4,57.5 L417.6,59.3 L417.9,57.5 L418.1,59.4 L418.4,59.6 M421.6,74.6 L421.9,73.8 L422.1,75.9 L422.4,74.7 L422.6,77.1 L422.9,76.7 L423.1,78.4 L423.4,78.0 L423.6,80.2 L423.9,77.2 L424.1,77.9 M427.4,63.7 L427.6,63.6 L427.9,62.0 L428.1,62.5 L428.4,60.7 L428.6,61.0 L428.9,58.9 L429.1,59.4 L429.4,57.4 L429.6,58.7 L429.9,56.6 L430.1,57.0 L430.4,56.5 L430.6,58.2 L430.9,57.4 L431.1,59.7 L431.4,59.3 L431.6,60.9 L431.9,60.5 L432.1,62.7 L432.4,61.8 L432.6,64.0 L432.9,63.7 M436.6,78.9 L436.9,78.6 L437.1,80.5 L437.4,80.8 L437.6,81.2 L437.9,79.1 L438.1,80.0 L438.4,77.8 L438.6,78.4 L438.9,75.9 L439.1,76.8 L439.4,75.1 L439.6,74.9 L439.9,73.2 L440.1,74.0 L440.4,71.9 L440.6,72.1 L440.9,70.0 L441.1,70.5 L441.4,68.6 L441.6,68.9 L441.9,66.9 L442.1,67.5 L442.4,65.4 L442.6,66.0 L442.9,63.8 L443.1,63.9 L443.4,62.4 L443.6,62.8 L443.9,60.2 L444.1,61.2 L444.4,58.5 L444.6,59.6 L444.9,57.2 L445.1,57.9 L445.4,55.9 L445.6,56.6 L445.9,55.1 L446.1,55.5 L446.4,53.3 L446.6,54.8 L446.9,53.0 L447.1,54.0 L447.4,52.2 L447.6,54.5 L447.9,53.6 L448.1,54.9 L448.4,53.7 L448.6,54.6 L448.9,52.7 L449.1,53.8 L449.4,52.2 L449.6,53.2 L449.9,51.1 L450.1,52.0 L450.4,50.9 L450.6,51.9 L450.9,50.0 L451.1,51.5 L451.4,49.3 L451.6,50.9 L451.9,49.6 L452.1,50.6 L452.4,49.8 L452.6,51.2 L452.9,50.0 M457.4,76.5 L457.6,78.8 L457.9,78.3 L458.1,79.9 L458.4,78.0 L458.6,78.4 L458.9,76.2 L459.1,77.6 L459.4,75.2 L459.6,76.3 L459.9,74.4 L460.1,75.0 L460.4,73.7 L460.6,74.6 L460.9,71.9 L461.1,72.6 L461.4,71.0 L461.6,71.3 L461.9,69.2 L462.1,69.5 L462.4,67.4 L462.6,68.6 L462.9,66.0 L463.1,66.6 L463.4,64.5 L463.6,65.0 L463.9,62.9 L464.1,64.0 L464.4,62.0 L464.6,63.8 L464.9,61.7 L465.1,62.3 L465.4,60.9 L465.6,62.2 L465.9,60.7 L466.1,61.2 L466.4,59.9 L466.6,61.3 L466.9,59.7 L467.1,61.8 L467.4,60.5 L467.6,62.9 M474.6,119.3 L474.9,119.0 L475.1,120.6" fill="none" stroke="#b4cdec" stroke-width="0.6" stroke-linejoin="round" opacity="0.8"/>
<path d="M233.6,125.1 L233.8,125.1 L234.1,125.1 L234.3,125.0 L234.6,125.0 L234.8,124.9 L235.1,124.9 L235.3,124.9 L235.6,124.9 L235.8,124.8 L236.1,124.8 L236.3,124.7 L236.6,124.7 L236.8,124.5 L237.1,124.4 L237.3,124.1 L237.6,124.1 L237.8,123.7 L238.1,123.8 L238.3,123.5 L238.6,123.4 L238.8,123.1 L239.1,123.2 L239.3,122.8 L239.6,122.8 L239.8,122.0 L240.1,121.8 L240.3,120.9 L240.6,120.9 L240.8,119.9 L241.1,120.2 L241.3,118.9 L241.6,119.5 L241.8,117.4 L242.1,117.3 L242.3,115.8 L242.6,115.7 M249.1,63.7 L249.3,61.7 L249.6,62.2 L249.8,60.3 L250.1,61.2 L250.3,59.7 L250.6,60.3 L250.8,58.2 L251.1,59.3 L251.3,57.9 L251.6,58.7 L251.8,57.7 L252.1,58.7 L252.3,56.8 L252.6,58.2 L252.8,56.7 L253.1,57.7 L253.3,55.5 L253.6,56.9 L253.8,54.9 L254.1,55.6 L254.3,53.1 L254.6,54.3 L254.8,52.5 L255.1,53.2 L255.3,50.7 L255.6,51.0 L255.8,49.5 L256.1,49.5 L256.4,47.4 L256.6,47.8 L256.9,46.3 L257.1,47.4 L257.4,45.8 L257.6,47.0 L257.9,44.9 L258.1,45.9 L258.4,45.0 L258.6,46.2 L258.9,45.2 L259.1,47.8 L259.4,47.0 L259.6,48.8 L259.9,47.6 L260.1,50.5 M262.9,62.1 L263.1,65.0 L263.4,64.0 L263.6,66.5 L263.9,65.6 L264.1,67.7 L264.4,67.1 L264.6,69.0 L264.9,68.2 L265.1,69.8 L265.4,69.3 L265.6,70.8 L265.9,70.2 L266.1,72.3 L266.4,71.6 L266.6,73.6 L266.9,72.1 L267.1,74.4 L267.4,73.4 L267.6,74.8 L267.9,73.3 L268.1,75.5 L268.4,74.7 L268.6,76.2 L268.9,75.2 L269.1,77.2 L269.4,75.6 L269.6,76.7 L269.9,75.7 L270.1,76.0 L270.4,74.4 L270.6,74.7 L270.9,72.8 L271.1,73.9 L271.4,72.4 L271.6,73.2 L271.9,71.3 L272.1,72.3 L272.4,70.8 L272.6,71.3 L272.9,69.3 L273.1,70.5 L273.4,68.4 L273.6,69.8 L273.9,67.9 L274.1,68.0 L274.4,66.8 L274.6,67.0 L274.9,65.8 L275.1,66.8 L275.4,64.2 L275.6,65.2 L275.9,63.6 L276.1,63.8 L276.4,61.8 L276.6,62.5 L276.9,60.9 L277.1,61.6 L277.4,59.4 L277.6,60.8 L277.9,58.7 L278.1,59.5 L278.4,57.7 L278.6,57.7 L278.9,56.3 L279.1,57.3 L279.4,55.0 L279.6,55.8 L279.9,54.3 L280.1,56.5 L280.4,56.3 L280.6,58.8 L280.9,58.9 L281.1,61.3 L281.4,60.3 L281.6,62.7 L281.9,61.8 L282.1,64.4 L282.4,63.4 L282.6,65.5 L282.9,64.3 L283.1,66.6 L283.4,65.4 L283.6,67.7 L283.9,67.2 L284.1,69.2 L284.4,68.1 L284.6,69.8 L284.9,68.3 L285.1,69.7 L285.4,68.8 L285.6,69.8 L285.9,68.6 L286.1,70.0 L286.4,68.0 L286.6,69.6 L286.9,67.4 L287.1,68.2 L287.4,66.4 L287.6,67.6 L287.9,66.1 L288.1,66.6 L288.4,64.9 L288.6,66.0 L288.9,63.8 L289.1,65.2 L289.4,64.0 L289.6,64.3 L289.9,63.2 L290.1,64.1 L290.4,62.3 L290.6,63.0 L290.9,61.5 L291.1,62.6 L291.4,60.8 L291.6,62.6 L291.9,61.2 L292.1,62.4 L292.4,61.6 L292.6,62.6 L292.9,61.1 L293.1,62.8 L293.4,61.6 L293.6,63.2 L293.9,62.3 L294.1,63.4 L294.4,62.4 L294.6,64.3 L294.9,63.7 L295.1,65.8 L295.4,64.2 L295.6,63.5 L295.9,60.8 M296.9,55.8 L297.1,55.7 L297.4,53.5 L297.6,54.1 L297.9,52.8 L298.1,53.8 L298.4,52.6 L298.6,54.3 L298.9,53.5 L299.1,55.0 L299.4,53.2 L299.6,55.1 L299.9,54.1 L300.1,55.2 L300.4,54.2 L300.6,56.2 L300.9,55.2 L301.1,56.8 L301.4,55.4 L301.6,57.3 L301.9,56.4 L302.1,58.3 L302.4,56.7 L302.6,59.0 L302.9,57.6 L303.1,59.7 L303.4,58.3 L303.6,59.9 L303.9,59.6 L304.1,60.9 L304.4,59.6 L304.6,61.7 L304.9,61.0 L305.1,62.1 L305.4,61.7 L305.6,64.2 L305.9,63.1 L306.1,65.4 L306.4,64.4 M312.6,117.7 L312.9,117.5 L313.1,119.0 L313.4,118.9 L313.6,120.3 L313.9,120.6 L314.1,121.8 L314.4,121.5 L314.6,122.3 L314.9,122.3 L315.1,122.9 L315.4,122.9 L315.6,123.4 L315.9,123.5 L316.1,124.0 L316.4,124.1 L316.6,124.3 L316.9,124.2 L317.1,124.4 L317.4,124.4 L317.6,124.6 L317.9,124.6 L318.1,124.8 L318.4,124.8 L318.6,125.0 L318.9,125.0 L319.1,125.1 L319.4,125.1 L319.6,125.1 M371.4,125.1 L371.6,125.1 L371.9,125.0 L372.1,125.0 L372.4,125.0 L372.6,125.0 L372.9,124.8 L373.1,124.8 L373.4,124.7 L373.6,124.7 L373.9,124.5 L374.1,124.5 L374.4,124.3 L374.6,124.4 L374.9,124.2 L375.1,124.2 L375.4,123.9 L375.6,123.8 L375.9,123.4 L376.1,123.4 L376.4,122.9 L376.6,123.1 L376.9,122.6 L377.1,122.6 L377.4,121.8 L377.6,121.9 L377.9,120.9 L378.1,121.1 L378.4,120.2 L378.6,120.2 L378.9,119.3 L379.1,119.4 L379.4,117.3 L379.6,117.6 L379.9,115.5 L380.1,115.7 M388.4,62.5 L388.6,62.2 L388.9,60.2 L389.1,61.1 L389.4,58.9 L389.6,59.5 L389.9,57.5 L390.1,57.7 L390.4,55.8 L390.6,57.9 L390.9,56.7 L391.1,57.6 L391.4,56.7 L391.6,58.8 L391.9,57.3 L392.1,59.5 L392.4,58.7 L392.6,60.6 L392.9,59.8 L393.1,61.5 L393.4,60.7 M395.9,74.9 L396.1,77.2 L396.4,76.1 L396.6,78.5 L396.9,77.4 L397.1,79.8 L397.4,78.8 L397.6,81.8 L397.9,81.0 L398.1,82.6 L398.4,81.0 L398.6,83.0 L398.9,81.6 L399.1,83.5 L399.4,82.3 L399.6,84.3 L399.9,83.4 L400.1,84.8 L400.4,83.1 L400.6,84.4 L400.9,82.8 L401.1,83.8 L401.4,82.4 L401.6,83.9 L401.9,81.6 L402.1,82.7 L402.4,81.7 L402.6,82.8 L402.9,80.9 L403.1,82.1 L403.4,81.0 L403.6,81.6 L403.9,79.1 L404.1,79.9 L404.4,76.8 M406.4,68.2 L406.6,68.4 L406.9,66.1 L407.1,65.7 L407.4,63.5 L407.6,64.7 L407.9,63.0 L408.1,63.5 L408.4,61.5 L408.6,62.1 L408.9,59.7 L409.1,60.9 L409.4,58.9 L409.6,59.1 L409.9,57.0 L410.1,57.8 L410.4,56.0 L410.6,56.9 L410.9,54.4 L411.1,56.1 L411.4,53.8 L411.6,55.4 L411.9,52.9 L412.1,54.2 L412.4,52.2 L412.6,53.0 L412.9,51.5 L413.1,51.8 L413.4,51.5 L413.6,53.7 L413.9,52.7 L414.1,54.7 L414.4,54.2 L414.6,56.5 L414.9,55.5 L415.1,57.1 L415.4,55.6 L415.6,57.1 L415.9,55.5 L416.1,57.3 L416.4,56.1 L416.6,57.0 L416.9,56.3 L417.1,57.8 L417.4,56.6 L417.6,58.4 L417.9,56.6 L418.1,58.5 L418.4,58.7 L418.6,60.9 L418.9,60.7 M420.4,67.7 L420.6,69.8 L420.9,69.7 L421.1,72.2 L421.4,71.4 L421.6,73.7 L421.9,72.9 L422.1,75.0 L422.4,73.8 L422.6,76.2 L422.9,75.8 L423.1,77.5 L423.4,77.1 L423.6,79.3 L423.9,76.3 L424.1,77.0 L424.4,74.4 L424.6,75.0 L424.9,72.2 L425.1,72.8 L425.4,70.3 L425.6,70.4 L425.9,67.7 L426.1,68.0 L426.4,66.0 L426.6,66.4 L426.9,64.2 L427.1,64.0 L427.4,62.8 L427.6,62.7 L427.9,61.1 L428.1,61.6 L428.4,59.8 L428.6,60.1 L428.9,58.0 L429.1,58.5 L429.4,56.5 L429.6,57.8 L429.9,55.7 L430.1,56.1 L430.4,55.6 L430.6,57.3 L430.9,56.5 L431.1,58.8 L431.4,58.4 L431.6,60.0 L431.9,59.6 L432.1,61.8 L432.4,60.9 L432.6,63.1 L432.9,62.8 L433.1,64.5 L433.4,64.2 L433.6,66.6 L433.9,66.1 L434.1,68.1 L434.4,68.7 L434.6,70.2 L434.9,70.5 L435.1,72.4 L435.4,72.1 L435.6,74.3 L435.9,74.0 L436.1,75.7 L436.4,76.0 L436.6,78.0 L436.9,77.7 L437.1,79.6 L437.4,79.9 L437.6,80.3 L437.9,78.2 L438.1,79.1 L438.4,76.9 L438.6,77.5 L438.9,75.0 L439.1,75.9 L439.4,74.2 L439.6,74.0 L439.9,72.3 L440.1,73.1 L440.4,71.0 L440.6,71.2 L440.9,69.1 L441.1,69.6 L441.4,67.7 L441.6,68.0 L441.9,66.0 L442.1,66.6 L442.4,64.5 L442.6,65.1 L442.9,62.9 L443.1,63.0 L443.4,61.5 L443.6,61.9 L443.9,59.3 L444.1,60.3 L444.4,57.6 L444.6,58.7 L444.9,56.3 L445.1,57.0 L445.4,55.0 L445.6,55.7 L445.9,54.2 L446.1,54.6 L446.4,52.4 L446.6,53.9 L446.9,52.1 L447.1,53.1 L447.4,51.3 L447.6,53.6 L447.9,52.7 L448.1,54.0 L448.4,52.8 L448.6,53.7 L448.9,51.8 L449.1,52.9 L449.4,51.3 L449.6,52.3 L449.9,50.2 L450.1,51.1 L450.4,50.0 L450.6,51.0 L450.9,49.1 L451.1,50.6 L451.4,48.4 L451.6,50.0 L451.9,48.7 L452.1,49.7 L452.4,48.9 L452.6,50.3 L452.9,49.1 L453.1,51.6 L453.4,51.4 M456.9,73.3 L457.1,76.2 L457.4,75.6 L457.6,77.9 L457.9,77.4 L458.1,79.0 L458.4,77.1 L458.6,77.5 L458.9,75.3 L459.1,76.7 L459.4,74.3 L459.6,75.4 L459.9,73.5 L460.1,74.1 L460.4,72.8 L460.6,73.7 L460.9,71.0 L461.1,71.7 L461.4,70.1 L461.6,70.4 L461.9,68.3 L462.1,68.6 L462.4,66.5 L462.6,67.7 L462.9,65.1 L463.1,65.7 L463.4,63.6 L463.6,64.1 L463.9,62.0 L464.1,63.1 L464.4,61.1 L464.6,62.9 L464.9,60.8 L465.1,61.4 L465.4,60.0 L465.6,61.3 L465.9,59.8 L466.1,60.3 L466.4,59.0 L466.6,60.4 L466.9,58.8 L467.1,60.9 L467.4,59.6 L467.6,62.0 L467.9,60.9 M474.1,116.3 L474.4,116.5 L474.6,118.4 L474.9,118.1 L475.1,119.7 L475.4,119.7 L475.6,120.5 L475.9,120.6 L476.1,121.2 L476.4,121.3 L476.6,122.0 L476.9,122.0 L477.1,122.7 L477.4,122.9 L477.6,123.3 L477.9,123.3 L478.1,123.6 L478.4,123.7 L478.6,124.0 L478.9,124.0 L479.1,124.2 L479.4,124.3 L479.6,124.5 L479.9,124.6 L480.1,124.8 L480.4,124.7 L480.6,124.8 L480.9,124.8 L481.1,124.9 L481.4,124.9 L481.6,124.9 L481.9,124.9 L482.1,125.0 L482.4,125.0 L482.6,125.1 L482.9,125.1" fill="none" stroke="#3a7bd0" stroke-width="0.45" stroke-linejoin="round" clip-path="url(#cu)"/>
<path d="M242.6,115.7 L242.8,113.8 L243.1,114.5 L243.3,111.2 L243.6,111.4 L243.8,108.2 L244.1,108.6 L244.3,105.1 L244.6,104.0 L244.8,100.1 L245.1,99.0 L245.3,95.6 L245.6,94.5 L245.8,90.8 L246.1,89.1 L246.3,84.8 L246.6,83.4 L246.8,79.1 L247.1,78.4 L247.3,74.7 L247.6,73.2 L247.8,69.7 L248.1,68.9 L248.3,66.4 L248.6,65.4 L248.8,63.6 M260.4,50.1 L260.6,53.4 L260.9,53.0 L261.1,55.6 L261.4,55.3 L261.6,57.7 L261.9,57.2 L262.1,60.3 L262.4,60.3 L262.6,61.7 M296.1,60.3 L296.4,57.7 L296.6,58.1 L296.9,55.8 M306.6,66.4 L306.9,66.1 L307.1,68.8 L307.4,69.4 L307.6,72.9 L307.9,73.7 L308.1,77.3 L308.4,79.6 L308.6,84.2 L308.9,85.0 L309.1,89.9 L309.4,91.3 L309.6,96.2 L309.9,98.1 L310.1,101.9 L310.4,102.6 L310.6,106.0 L310.9,106.9 L311.1,110.2 L311.4,110.3 L311.6,113.0 L311.9,112.2 L312.1,115.4 L312.4,115.7 M380.1,115.7 L380.4,113.3 L380.6,113.2 L380.9,110.9 L381.1,110.9 L381.4,108.2 L381.6,108.2 L381.9,105.1 L382.1,104.2 L382.4,101.3 L382.6,101.1 L382.9,97.6 L383.1,97.3 L383.4,94.5 L383.6,94.4 L383.9,90.8 L384.1,90.0 L384.4,86.7 L384.6,85.8 L384.9,83.0 L385.1,82.6 L385.4,79.4 L385.6,78.6 L385.9,75.7 L386.1,75.0 L386.4,72.5 L386.6,72.3 L386.9,69.4 L387.1,69.5 L387.4,66.6 L387.6,66.9 L387.9,64.7 L388.1,65.0 M393.4,60.7 L393.6,64.2 L393.9,63.6 L394.1,66.6 L394.4,67.2 L394.6,69.6 L394.9,69.6 L395.1,72.3 L395.4,72.3 L395.6,75.1 M404.6,77.4 L404.9,74.7 L405.1,75.4 L405.4,72.2 L405.6,72.5 L405.9,70.3 L406.1,71.0 L406.4,68.2 M418.9,60.7 L419.1,63.2 L419.4,63.0 L419.6,65.5 L419.9,65.1 L420.1,67.8 L420.4,67.7 M424.6,75.0 L424.9,72.2 L425.1,72.8 L425.4,70.3 L425.6,70.4 L425.9,67.7 L426.1,68.0 M453.6,54.3 L453.9,54.1 L454.1,57.0 L454.4,57.5 L454.6,60.9 L454.9,61.0 L455.1,64.8 L455.4,65.5 L455.6,68.5 L455.9,69.1 L456.1,72.2 L456.4,71.3 L456.6,74.1 M468.1,62.1 L468.4,62.9 L468.6,65.9 L468.9,66.4 L469.1,69.3 L469.4,70.1 L469.6,73.0 L469.9,74.3 L470.1,78.2 L470.4,78.7 L470.6,83.0 L470.9,84.8 L471.1,89.5 L471.4,91.9 L471.6,96.9 L471.9,98.2 L472.1,102.8 L472.4,104.7 L472.6,108.8 L472.9,109.2 L473.1,112.3 L473.4,112.7 L473.6,115.1 L473.9,114.0" fill="none" stroke="#3a7bd0" stroke-width="0.45" stroke-linejoin="round" opacity="0.5" clip-path="url(#cu)"/>
<path d="M241.6,119.0 L241.8,117.0 L242.1,116.6 M249.3,49.2 L249.6,49.9 L249.8,48.3 L250.1,48.8 L250.3,46.6 L250.6,46.7 L250.8,45.2 L251.1,45.7 L251.3,44.5 L251.6,45.5 L251.8,44.2 L252.1,45.0 L252.3,43.3 L252.6,44.5 L252.8,43.1 L253.1,44.1 L253.3,42.9 L253.6,43.0 L253.8,41.1 L254.1,41.7 L254.3,39.5 L254.6,40.2 L254.8,38.0 L255.1,38.1 L255.3,36.2 L255.6,36.7 L255.8,33.5 L256.1,33.9 L256.4,32.3 L256.6,33.0 L256.9,31.2 L257.1,31.6 L257.4,29.7 L257.6,31.0 L257.9,29.4 L258.1,30.5 L258.4,28.8 L258.6,30.4 L258.9,30.0 L259.1,32.1 L259.4,30.9 L259.6,33.1 M263.9,54.6 L264.1,56.4 L264.4,55.5 L264.6,57.4 L264.9,57.5 L265.1,59.3 L265.4,58.1 L265.6,60.2 L265.9,59.2 L266.1,61.6 L266.4,60.8 L266.6,63.0 L266.9,62.5 L267.1,64.2 L267.4,63.3 L267.6,64.3 L267.9,63.8 L268.1,65.2 L268.4,64.8 L268.6,66.7 L268.9,65.1 L269.1,66.8 L269.4,66.1 L269.6,67.1 L269.9,65.1 L270.1,66.8 L270.4,64.1 L270.6,65.3 L270.9,63.5 L271.1,64.2 L271.4,62.0 L271.6,63.3 L271.9,61.7 L272.1,62.1 L272.4,60.0 L272.6,60.6 L272.9,59.2 L273.1,59.7 L273.4,57.9 L273.6,58.5 L273.9,56.3 L274.1,56.8 L274.4,55.2 L274.6,56.3 L274.9,54.3 L275.1,54.5 L275.4,52.3 L275.6,53.5 L275.9,50.7 L276.1,52.1 L276.4,49.2 L276.6,50.3 L276.9,48.0 L277.1,48.1 L277.4,46.8 L277.6,47.4 L277.9,45.4 L278.1,45.8 L278.4,43.7 L278.6,44.6 L278.9,42.4 L279.1,43.2 L279.4,41.1 L279.6,41.5 L279.9,39.9 L280.1,42.7 L280.4,42.8 M281.9,49.4 L282.1,51.7 L282.4,51.9 L282.6,52.9 L282.9,52.6 L283.1,54.9 L283.4,54.3 L283.6,56.4 L283.9,55.5 L284.1,58.1 L284.4,57.2 L284.6,58.9 L284.9,57.2 L285.1,59.2 L285.4,57.2 L285.6,58.5 L285.9,57.8 L286.1,59.1 L286.4,57.0 L286.6,58.6 L286.9,56.5 L287.1,57.3 L287.4,55.6 L287.6,56.4 L287.9,54.8 L288.1,54.9 L288.4,53.6 L288.6,54.4 L288.9,52.4 L289.1,53.7 L289.4,51.3 L289.6,52.4 L289.9,50.6 L290.1,51.4 L290.4,49.9 L290.6,51.0 L290.9,49.0 L291.1,50.0 L291.4,48.6 L291.6,49.8 L291.9,49.0 L292.1,50.4 L292.4,48.5 L292.6,50.7 L292.9,49.0 L293.1,50.0 L293.4,48.6 L293.6,50.4 L293.9,49.7 L294.1,50.7 L294.4,50.7 L294.6,52.1 L294.9,52.1 L295.1,53.4 L295.4,52.6 M297.4,39.9 L297.6,40.0 L297.9,38.2 L298.1,39.6 L298.4,38.3 L298.6,40.4 L298.9,38.5 L299.1,40.5 L299.4,38.9 L299.6,40.7 L299.9,40.0 L300.1,41.5 L300.4,40.4 L300.6,42.0 L300.9,40.9 L301.1,42.8 L301.4,42.2 L301.6,44.4 L301.9,43.0 L302.1,45.1 L302.4,43.8 L302.6,46.2 L302.9,44.4 L303.1,46.6 L303.4,45.4 L303.6,47.4 L303.9,46.3 L304.1,48.2 L304.4,47.2 L304.6,48.8 L304.9,48.1 L305.1,49.8 L305.4,49.0 L305.6,51.1 L305.9,50.8 M389.1,47.8 L389.4,45.5 L389.6,46.1 L389.9,44.5 L390.1,44.6 L390.4,42.2 L390.6,43.7 L390.9,43.2 L391.1,44.7 L391.4,43.8 L391.6,44.8 L391.9,43.8 L392.1,45.7 L392.4,45.3 L392.6,47.5 M396.6,68.9 L396.9,68.3 L397.1,71.2 L397.4,70.4 L397.6,72.8 L397.9,72.3 L398.1,74.3 L398.4,73.0 L398.6,74.9 L398.9,73.9 L399.1,75.6 L399.4,74.5 L399.6,76.0 L399.9,75.0 L400.1,77.0 L400.4,75.7 L400.6,76.4 L400.9,75.0 L401.1,75.8 L401.4,74.3 L401.6,75.5 L401.9,73.7 L402.1,74.6 L402.4,72.9 L402.6,74.0 L402.9,72.9 L403.1,73.9 L403.4,72.3 L403.6,73.5 L403.9,70.9 M407.6,53.1 L407.9,49.8 L408.1,50.7 L408.4,48.6 L408.6,49.7 L408.9,46.9 L409.1,48.0 L409.4,46.0 L409.6,45.5 L409.9,43.5 L410.1,44.2 L410.4,42.6 L410.6,42.5 L410.9,40.5 L411.1,42.1 L411.4,39.9 L411.6,40.5 L411.9,39.0 L412.1,39.7 L412.4,37.4 L412.6,38.7 L412.9,36.7 L413.1,37.3 L413.4,36.8 L413.6,38.6 L413.9,38.9 L414.1,40.4 L414.4,40.1 L414.6,41.9 L414.9,41.5 L415.1,42.8 L415.4,41.8 L415.6,43.5 L415.9,41.9 L416.1,43.3 L416.4,42.7 L416.6,44.2 L416.9,42.7 L417.1,44.5 L417.4,43.0 L417.6,44.6 L417.9,42.9 L418.1,45.4 L418.4,44.8 M421.6,63.2 L421.9,62.7 L422.1,65.2 L422.4,64.2 L422.6,66.5 L422.9,65.9 L423.1,67.6 L423.4,67.7 L423.6,70.2 L423.9,67.6 L424.1,67.2 M427.4,50.5 L427.6,50.7 L427.9,48.3 L428.1,48.9 L428.4,46.8 L428.6,47.3 L428.9,44.9 L429.1,46.0 L429.4,43.4 L429.6,44.2 L429.9,41.7 L430.1,42.1 L430.4,41.1 L430.6,44.0 L430.9,43.7 L431.1,45.9 L431.4,44.9 L431.6,47.9 L431.9,47.3 L432.1,49.6 L432.4,48.4 L432.6,50.7 L432.9,50.7 M436.6,69.0 L436.9,68.9 L437.1,71.3 L437.4,70.5 L437.6,72.1 L437.9,69.4 L438.1,69.8 L438.4,67.5 L438.6,68.6 L438.9,66.0 L439.1,66.2 L439.4,64.4 L439.6,64.8 L439.9,62.6 L440.1,62.2 L440.4,60.0 L440.6,60.9 L440.9,58.2 L441.1,58.9 L441.4,56.1 L441.6,56.8 L441.9,54.6 L442.1,54.8 L442.4,52.6 L442.6,52.8 L442.9,50.5 L443.1,51.0 L443.4,48.6 L443.6,49.5 L443.9,46.7 L444.1,46.8 L444.4,44.5 L444.6,45.0 L444.9,42.5 L445.1,43.9 L445.4,41.6 L445.6,41.5 L445.9,40.0 L446.1,40.0 L446.4,37.8 L446.6,38.9 L446.9,37.8 L447.1,38.2 L447.4,37.4 L447.6,38.9 L447.9,38.3 L448.1,39.8 L448.4,38.3 L448.6,39.3 L448.9,37.7 L449.1,38.9 L449.4,36.5 L449.6,37.7 L449.9,35.5 L450.1,36.3 L450.4,35.1 L450.6,35.7 L450.9,34.0 L451.1,35.7 L451.4,34.0 L451.6,34.8 L451.9,33.5 L452.1,35.2 L452.4,33.9 L452.6,35.0 L452.9,34.6 M457.4,66.2 L457.6,68.7 L457.9,68.6 L458.1,69.5 L458.4,67.7 L458.6,68.4 L458.9,66.4 L459.1,67.1 L459.4,64.5 L459.6,65.6 L459.9,63.6 L460.1,64.7 L460.4,61.7 L460.6,63.1 L460.9,60.2 L461.1,61.4 L461.4,59.2 L461.6,59.5 L461.9,57.2 L462.1,57.9 L462.4,54.9 L462.6,55.9 L462.9,53.4 L463.1,53.8 L463.4,51.3 L463.6,51.7 L463.9,50.1 L464.1,51.1 L464.4,48.9 L464.6,49.8 L464.9,47.8 L465.1,49.3 L465.4,47.6 L465.6,48.0 L465.9,46.4 L466.1,47.4 L466.4,45.5 L466.6,47.4 L466.9,46.0 L467.1,48.2 L467.4,47.1 L467.6,48.8 M474.6,117.1 L474.9,117.4 L475.1,119.2" fill="none" stroke="#a8c6a0" stroke-width="0.6" stroke-linejoin="round" opacity="0.8"/>
<path d="M233.6,125.1 L233.8,125.0 L234.1,125.0 L234.3,124.9 L234.6,124.9 L234.8,124.9 L235.1,124.8 L235.3,124.8 L235.6,124.8 L235.8,124.7 L236.1,124.7 L236.3,124.6 L236.6,124.6 L236.8,124.3 L237.1,124.2 L237.3,123.9 L237.6,123.8 L237.8,123.5 L238.1,123.4 L238.3,123.1 L238.6,123.0 L238.8,122.7 L239.1,122.8 L239.3,122.3 L239.6,122.2 L239.8,121.4 L240.1,121.1 L240.3,120.1 L240.6,120.1 L240.8,119.0 L241.1,119.0 L241.3,117.6 L241.6,118.1 L241.8,116.1 L242.1,115.7 L242.3,113.8 L242.6,114.0 M249.1,50.3 L249.3,48.3 L249.6,49.0 L249.8,47.4 L250.1,47.9 L250.3,45.7 L250.6,45.8 L250.8,44.3 L251.1,44.8 L251.3,43.6 L251.6,44.6 L251.8,43.3 L252.1,44.1 L252.3,42.4 L252.6,43.6 L252.8,42.2 L253.1,43.2 L253.3,42.0 L253.6,42.1 L253.8,40.2 L254.1,40.8 L254.3,38.6 L254.6,39.3 L254.8,37.1 L255.1,37.2 L255.3,35.3 L255.6,35.8 L255.8,32.6 L256.1,33.0 L256.4,31.4 L256.6,32.1 L256.9,30.3 L257.1,30.7 L257.4,28.8 L257.6,30.1 L257.9,28.5 L258.1,29.6 L258.4,27.9 L258.6,29.5 L258.9,29.1 L259.1,31.2 L259.4,30.0 L259.6,32.2 L259.9,32.1 L260.1,34.1 M262.9,48.7 L263.1,51.4 L263.4,51.1 L263.6,54.2 L263.9,53.7 L264.1,55.5 L264.4,54.6 L264.6,56.5 L264.9,56.6 L265.1,58.4 L265.4,57.2 L265.6,59.3 L265.9,58.3 L266.1,60.7 L266.4,59.9 L266.6,62.1 L266.9,61.6 L267.1,63.3 L267.4,62.4 L267.6,63.4 L267.9,62.9 L268.1,64.3 L268.4,63.9 L268.6,65.8 L268.9,64.2 L269.1,65.9 L269.4,65.2 L269.6,66.2 L269.9,64.2 L270.1,65.9 L270.4,63.2 L270.6,64.4 L270.9,62.6 L271.1,63.3 L271.4,61.1 L271.6,62.4 L271.9,60.8 L272.1,61.2 L272.4,59.1 L272.6,59.7 L272.9,58.3 L273.1,58.8 L273.4,57.0 L273.6,57.6 L273.9,55.4 L274.1,55.9 L274.4,54.3 L274.6,55.4 L274.9,53.4 L275.1,53.6 L275.4,51.4 L275.6,52.6 L275.9,49.8 L276.1,51.2 L276.4,48.3 L276.6,49.4 L276.9,47.1 L277.1,47.2 L277.4,45.9 L277.6,46.5 L277.9,44.5 L278.1,44.9 L278.4,42.8 L278.6,43.7 L278.9,41.5 L279.1,42.3 L279.4,40.2 L279.6,40.6 L279.9,39.0 L280.1,41.8 L280.4,41.9 L280.6,44.2 L280.9,44.4 L281.1,46.6 L281.4,46.8 L281.6,49.2 L281.9,48.5 L282.1,50.8 L282.4,51.0 L282.6,52.0 L282.9,51.7 L283.1,54.0 L283.4,53.4 L283.6,55.5 L283.9,54.6 L284.1,57.2 L284.4,56.3 L284.6,58.0 L284.9,56.3 L285.1,58.3 L285.4,56.3 L285.6,57.6 L285.9,56.9 L286.1,58.2 L286.4,56.1 L286.6,57.7 L286.9,55.6 L287.1,56.4 L287.4,54.7 L287.6,55.5 L287.9,53.9 L288.1,54.0 L288.4,52.7 L288.6,53.5 L288.9,51.5 L289.1,52.8 L289.4,50.4 L289.6,51.5 L289.9,49.7 L290.1,50.5 L290.4,49.0 L290.6,50.1 L290.9,48.1 L291.1,49.1 L291.4,47.7 L291.6,48.9 L291.9,48.1 L292.1,49.5 L292.4,47.6 L292.6,49.8 L292.9,48.1 L293.1,49.1 L293.4,47.7 L293.6,49.5 L293.9,48.8 L294.1,49.8 L294.4,49.8 L294.6,51.2 L294.9,51.2 L295.1,52.5 L295.4,51.7 L295.6,51.1 L295.9,47.3 M296.9,41.3 L297.1,40.8 L297.4,39.0 L297.6,39.1 L297.9,37.3 L298.1,38.7 L298.4,37.4 L298.6,39.5 L298.9,37.6 L299.1,39.6 L299.4,38.0 L299.6,39.8 L299.9,39.1 L300.1,40.6 L300.4,39.5 L300.6,41.1 L300.9,40.0 L301.1,41.9 L301.4,41.3 L301.6,43.5 L301.9,42.1 L302.1,44.2 L302.4,42.9 L302.6,45.3 L302.9,43.5 L303.1,45.7 L303.4,44.5 L303.6,46.5 L303.9,45.4 L304.1,47.3 L304.4,46.3 L304.6,47.9 L304.9,47.2 L305.1,48.9 L305.4,48.1 L305.6,50.2 L305.9,49.9 L306.1,52.2 L306.4,51.9 M312.6,115.6 L312.9,115.9 L313.1,117.7 L313.4,117.7 L313.6,119.1 L313.9,119.8 L314.1,120.9 L314.4,120.9 L314.6,121.7 L314.9,121.6 L315.1,122.2 L315.4,122.4 L315.6,123.0 L315.9,123.2 L316.1,123.7 L316.4,123.7 L316.6,124.0 L316.9,124.0 L317.1,124.3 L317.4,124.2 L317.6,124.4 L317.9,124.5 L318.1,124.7 L318.4,124.7 L318.6,124.8 L318.9,124.9 L319.1,125.0 L319.4,125.0 L319.6,125.1 M371.4,125.1 L371.6,125.0 L371.9,125.0 L372.1,125.0 L372.4,124.9 L372.6,124.9 L372.9,124.7 L373.1,124.7 L373.4,124.5 L373.6,124.6 L373.9,124.4 L374.1,124.4 L374.4,124.2 L374.6,124.2 L374.9,124.0 L375.1,124.0 L375.4,123.5 L375.6,123.5 L375.9,123.0 L376.1,123.0 L376.4,122.5 L376.6,122.5 L376.9,122.0 L377.1,122.0 L377.4,121.1 L377.6,120.8 L377.9,120.1 L378.1,120.0 L378.4,119.0 L378.6,119.2 L378.9,118.0 L379.1,117.6 L379.4,115.7 L379.6,115.4 L379.9,113.2 L380.1,112.9 M388.4,48.7 L388.6,48.5 L388.9,46.7 L389.1,46.9 L389.4,44.6 L389.6,45.2 L389.9,43.6 L390.1,43.7 L390.4,41.3 L390.6,42.8 L390.9,42.3 L391.1,43.8 L391.4,42.9 L391.6,43.9 L391.9,42.9 L392.1,44.8 L392.4,44.4 L392.6,46.6 L392.9,45.7 L393.1,48.3 L393.4,48.3 M395.9,64.5 L396.1,66.8 L396.4,66.7 L396.6,68.0 L396.9,67.4 L397.1,70.3 L397.4,69.5 L397.6,71.9 L397.9,71.4 L398.1,73.4 L398.4,72.1 L398.6,74.0 L398.9,73.0 L399.1,74.7 L399.4,73.6 L399.6,75.1 L399.9,74.1 L400.1,76.1 L400.4,74.8 L400.6,75.5 L400.9,74.1 L401.1,74.9 L401.4,73.4 L401.6,74.6 L401.9,72.8 L402.1,73.7 L402.4,72.0 L402.6,73.1 L402.9,72.0 L403.1,73.0 L403.4,71.4 L403.6,72.6 L403.9,70.0 L404.1,69.5 L404.4,67.5 M406.4,56.6 L406.6,56.1 L406.9,53.8 L407.1,53.0 L407.4,51.4 L407.6,52.2 L407.9,48.9 L408.1,49.8 L408.4,47.7 L408.6,48.8 L408.9,46.0 L409.1,47.1 L409.4,45.1 L409.6,44.6 L409.9,42.6 L410.1,43.3 L410.4,41.7 L410.6,41.6 L410.9,39.6 L411.1,41.2 L411.4,39.0 L411.6,39.6 L411.9,38.1 L412.1,38.8 L412.4,36.5 L412.6,37.8 L412.9,35.8 L413.1,36.4 L413.4,35.9 L413.6,37.7 L413.9,38.0 L414.1,39.5 L414.4,39.2 L414.6,41.0 L414.9,40.6 L415.1,41.9 L415.4,40.9 L415.6,42.6 L415.9,41.0 L416.1,42.4 L416.4,41.8 L416.6,43.3 L416.9,41.8 L417.1,43.6 L417.4,42.1 L417.6,43.7 L417.9,42.0 L418.1,44.5 L418.4,43.9 L418.6,47.1 L418.9,46.9 M420.4,55.7 L420.6,58.5 L420.9,58.5 L421.1,60.4 L421.4,59.9 L421.6,62.3 L421.9,61.8 L422.1,64.3 L422.4,63.3 L422.6,65.6 L422.9,65.0 L423.1,66.7 L423.4,66.8 L423.6,69.3 L423.9,66.7 L424.1,66.3 L424.4,63.5 L424.6,64.0 L424.9,61.3 L425.1,61.8 L425.4,58.4 L425.6,58.9 L425.9,56.7 L426.1,56.8 L426.4,53.6 L426.6,53.9 L426.9,51.0 L427.1,51.3 L427.4,49.6 L427.6,49.8 L427.9,47.4 L428.1,48.0 L428.4,45.9 L428.6,46.4 L428.9,44.0 L429.1,45.1 L429.4,42.5 L429.6,43.3 L429.9,40.8 L430.1,41.2 L430.4,40.2 L430.6,43.1 L430.9,42.8 L431.1,45.0 L431.4,44.0 L431.6,47.0 L431.9,46.4 L432.1,48.7 L432.4,47.5 L432.6,49.8 L432.9,49.8 L433.1,51.9 L433.4,51.5 L433.6,54.4 L433.9,53.9 L434.1,56.4 L434.4,56.0 L434.6,59.2 L434.9,58.1 L435.1,60.9 L435.4,60.6 L435.6,63.2 L435.9,63.0 L436.1,65.7 L436.4,65.5 L436.6,68.1 L436.9,68.0 L437.1,70.4 L437.4,69.6 L437.6,71.2 L437.9,68.5 L438.1,68.9 L438.4,66.6 L438.6,67.7 L438.9,65.1 L439.1,65.3 L439.4,63.5 L439.6,63.9 L439.9,61.7 L440.1,61.3 L440.4,59.1 L440.6,60.0 L440.9,57.3 L441.1,58.0 L441.4,55.2 L441.6,55.9 L441.9,53.7 L442.1,53.9 L442.4,51.7 L442.6,51.9 L442.9,49.6 L443.1,50.1 L443.4,47.7 L443.6,48.6 L443.9,45.8 L444.1,45.9 L444.4,43.6 L444.6,44.1 L444.9,41.6 L445.1,43.0 L445.4,40.7 L445.6,40.6 L445.9,39.1 L446.1,39.1 L446.4,36.9 L446.6,38.0 L446.9,36.9 L447.1,37.3 L447.4,36.5 L447.6,38.0 L447.9,37.4 L448.1,38.9 L448.4,37.4 L448.6,38.4 L448.9,36.8 L449.1,38.0 L449.4,35.6 L449.6,36.8 L449.9,34.6 L450.1,35.4 L450.4,34.2 L450.6,34.8 L450.9,33.1 L451.1,34.8 L451.4,33.1 L451.6,33.9 L451.9,32.6 L452.1,34.3 L452.4,33.0 L452.6,34.1 L452.9,33.7 L453.1,35.7 L453.4,36.7 M456.9,62.9 L457.1,65.2 L457.4,65.3 L457.6,67.8 L457.9,67.7 L458.1,68.6 L458.4,66.8 L458.6,67.5 L458.9,65.5 L459.1,66.2 L459.4,63.6 L459.6,64.7 L459.9,62.7 L460.1,63.8 L460.4,60.8 L460.6,62.2 L460.9,59.3 L461.1,60.5 L461.4,58.3 L461.6,58.6 L461.9,56.3 L462.1,57.0 L462.4,54.0 L462.6,55.0 L462.9,52.5 L463.1,52.9 L463.4,50.4 L463.6,50.8 L463.9,49.2 L464.1,50.2 L464.4,48.0 L464.6,48.9 L464.9,46.9 L465.1,48.4 L465.4,46.7 L465.6,47.1 L465.9,45.5 L466.1,46.5 L466.4,44.6 L466.6,46.5 L466.9,45.1 L467.1,47.3 L467.4,46.2 L467.6,47.9 L467.9,47.2 M474.1,114.5 L474.4,114.3 L474.6,116.2 L474.9,116.5 L475.1,118.3 L475.4,118.7 L475.6,119.4 L475.9,119.4 L476.1,120.4 L476.4,120.6 L476.6,121.4 L476.9,121.5 L477.1,122.1 L477.4,122.4 L477.6,123.0 L477.9,122.9 L478.1,123.4 L478.4,123.3 L478.6,123.7 L478.9,123.7 L479.1,124.1 L479.4,124.1 L479.6,124.4 L479.9,124.5 L480.1,124.7 L480.4,124.6 L480.6,124.7 L480.9,124.7 L481.1,124.8 L481.4,124.8 L481.6,124.9 L481.9,124.9 L482.1,125.0 L482.4,125.0 L482.6,125.0 L482.9,125.0" fill="none" stroke="#165a10" stroke-width="0.45" stroke-linejoin="round" clip-path="url(#cu)"/>
<path d="M242.6,114.0 L242.8,111.4 L243.1,111.4 L243.3,108.6 L243.6,108.0 L243.8,104.9 L244.1,104.5 L244.3,101.2 L244.6,99.2 L244.8,95.2 L245.1,94.2 L245.3,88.9 L245.6,87.7 L245.8,82.5 L246.1,81.4 L246.3,76.6 L246.6,74.7 L246.8,69.9 L247.1,67.9 L247.3,63.4 L247.6,62.1 L247.8,58.2 L248.1,56.5 L248.3,53.0 L248.6,53.2 L248.8,50.4 M260.4,34.0 L260.6,37.7 L260.9,37.9 L261.1,41.0 L261.4,41.1 L261.6,43.9 L261.9,43.2 L262.1,46.0 L262.4,46.1 L262.6,48.6 M296.1,46.4 L296.4,43.0 L296.6,43.2 L296.9,41.3 M306.6,54.5 L306.9,53.3 L307.1,56.8 L307.4,58.0 L307.6,61.9 L307.9,63.0 L308.1,67.6 L308.4,69.6 L308.6,74.6 L308.9,77.4 L309.1,82.0 L309.4,84.7 L309.6,89.9 L309.9,91.9 L310.1,96.7 L310.4,97.8 L310.6,101.5 L310.9,103.2 L311.1,106.3 L311.4,107.3 L311.6,109.7 L311.9,110.4 L312.1,113.2 L312.4,113.4 M380.1,112.9 L380.4,110.1 L380.6,110.9 L380.9,108.3 L381.1,107.7 L381.4,104.2 L381.6,103.5 L381.9,101.0 L382.1,100.4 L382.4,97.0 L382.6,95.7 L382.9,92.5 L383.1,91.6 L383.4,88.6 L383.6,87.0 L383.9,83.4 L384.1,82.6 L384.4,78.5 L384.6,77.6 L384.9,74.0 L385.1,73.2 L385.4,69.9 L385.6,68.8 L385.9,64.8 L386.1,64.4 L386.4,61.0 L386.6,60.9 L386.9,57.8 L387.1,57.2 L387.4,54.7 L387.6,54.8 L387.9,51.8 L388.1,51.1 M393.4,48.3 L393.6,50.9 L393.9,51.4 L394.1,54.3 L394.4,54.2 L394.6,57.1 L394.9,57.6 L395.1,60.7 L395.4,60.8 L395.6,64.2 M404.6,66.9 L404.9,64.5 L405.1,64.1 L405.4,61.4 L405.6,61.6 L405.9,58.8 L406.1,58.9 L406.4,56.6 M418.9,46.9 L419.1,49.5 L419.4,49.9 L419.6,52.1 L419.9,53.2 L420.1,55.4 L420.4,55.7 M424.6,64.0 L424.9,61.3 L425.1,61.8 L425.4,58.4 L425.6,58.9 L425.9,56.7 L426.1,56.8 M453.6,39.1 L453.9,39.5 L454.1,42.6 L454.4,43.1 L454.6,46.5 L454.9,47.4 L455.1,51.9 L455.4,53.1 L455.6,56.4 L455.9,57.9 L456.1,60.7 L456.4,60.1 L456.6,62.6 M468.1,48.9 L468.4,49.5 L468.6,53.3 L468.9,54.1 L469.1,57.6 L469.4,58.3 L469.6,61.6 L469.9,62.7 L470.1,67.8 L470.4,69.8 L470.6,73.5 L470.9,76.1 L471.1,82.1 L471.4,84.8 L471.6,89.9 L471.9,93.2 L472.1,97.5 L472.4,101.0 L472.6,104.2 L472.9,105.4 L473.1,109.2 L473.4,110.0 L473.6,112.5 L473.9,112.7" fill="none" stroke="#165a10" stroke-width="0.45" stroke-linejoin="round" opacity="0.5" clip-path="url(#cu)"/>
<g clip-path="url(#cl)"><path d="M233.6,125.2 L233.8,125.1 L234.1,125.1 L234.3,125.0 L234.6,125.1 L234.8,125.0 L235.1,125.0 L235.3,125.0 L235.6,125.0 L235.8,124.9 L236.1,124.9 L236.3,124.8 L236.6,124.8 L236.8,124.6 L237.1,124.6 L237.3,124.4 L237.6,124.3 L237.8,124.0 L238.1,124.1 L238.3,123.8 L238.6,123.9 L238.8,123.5 L239.1,123.6 L239.3,123.3 L239.6,123.3 L239.8,122.5 L240.1,122.5 L240.3,121.9 L240.6,121.6 L240.8,120.7 L241.1,121.1 L241.3,120.0 L241.6,120.7 L241.8,118.6 L242.1,118.9 L242.3,117.1 L242.6,117.8 L242.8,116.0 L243.1,116.0 L243.3,113.9 L243.6,114.2 L243.8,111.3 L244.1,111.7 L244.3,108.5 L244.6,108.0 L244.8,104.3 L245.1,104.2 L245.3,100.8 L245.6,99.5 L245.8,96.4 L246.1,95.4 L246.3,92.4 L246.6,91.2 L246.8,87.9 L247.1,86.6 L247.3,83.0 L247.6,83.1 L247.8,79.9 L248.1,79.4 L248.3,76.8 L248.6,77.1 L248.8,74.0 L249.1,74.8 L249.3,73.4 L249.6,74.5 L249.8,72.1 L250.1,73.0 L250.3,71.1 L250.6,72.4 L250.8,70.2 L251.1,71.9 L251.3,69.8 L251.6,71.3 L251.8,69.5 L252.1,70.3 L252.3,69.1 L252.6,70.2 L252.8,68.8 L253.1,69.7 L253.3,68.2 L253.6,69.3 L253.8,67.4 L254.1,68.4 L254.3,66.3 L254.6,67.6 L254.8,65.6 L255.1,66.0 L255.3,64.2 L255.6,65.4 L255.8,63.0 L256.1,62.9 L256.4,61.7 L256.6,62.2 L256.9,60.3 L257.1,62.1 L257.4,60.4 L257.6,61.5 L257.9,59.7 L258.1,61.2 L258.4,59.3 L258.6,60.7 L258.9,59.5 L259.1,62.1 L259.4,61.0 L259.6,62.6 L259.9,62.5 L260.1,64.2 L260.4,64.1 L260.6,66.3 L260.9,65.9 L261.1,68.7 L261.4,68.3 L261.6,70.6 L261.9,69.6 L262.1,71.7 L262.4,72.1 L262.6,74.0 L262.9,73.3 L263.1,75.3 L263.4,75.5 L263.6,76.9 L263.9,76.3 L264.1,78.5 L264.4,77.0 L264.6,79.2 L264.9,78.6 L265.1,80.1 L265.4,79.3 L265.6,81.5 L265.9,80.4 L266.1,82.3 L266.4,81.1 L266.6,82.9 L266.9,82.4 L267.1,83.9 L267.4,82.6 L267.6,83.9 L267.9,82.8 L268.1,84.5 L268.4,83.2 L268.6,85.0 L268.9,84.1 L269.1,85.9 L269.4,84.6 L269.6,85.6 L269.9,84.4 L270.1,85.4 L270.4,83.2 L270.6,84.7 L270.9,82.4 L271.1,84.1 L271.4,81.8 L271.6,83.0 L271.9,81.0 L272.1,82.0 L272.4,80.7 L272.6,81.6 L272.9,79.5 L273.1,80.7 L273.4,78.8 L273.6,79.8 L273.9,78.0 L274.1,79.4 L274.4,77.1 L274.6,78.4 L274.9,76.3 L275.1,77.6 L275.4,75.1 L275.6,76.4 L275.9,74.0 L276.1,75.3 L276.4,73.3 L276.6,74.0 L276.9,72.5 L277.1,73.2 L277.4,71.3 L277.6,71.9 L277.9,70.0 L278.1,71.2 L278.4,69.5 L278.6,70.6 L278.9,69.0 L279.1,69.9 L279.4,68.0 L279.6,68.5 L279.9,67.5 L280.1,69.5 L280.4,69.3 L280.6,71.3 L280.9,71.0 L281.1,72.6 L281.4,72.2 L281.6,74.2 L281.9,73.2 L282.1,75.7 L282.4,74.3 L282.6,76.3 L282.9,75.3 L283.1,77.2 L283.4,76.8 L283.6,78.3 L283.9,77.3 L284.1,79.1 L284.4,78.2 L284.6,79.4 L284.9,78.8 L285.1,79.6 L285.4,78.8 L285.6,80.6 L285.9,79.2 L286.1,80.2 L286.4,78.9 L286.6,79.6 L286.9,78.1 L287.1,79.2 L287.4,77.1 L287.6,78.4 L287.9,76.8 L288.1,77.7 L288.4,76.0 L288.6,76.8 L288.9,75.5 L289.1,76.5 L289.4,74.4 L289.6,75.8 L289.9,74.6 L290.1,74.9 L290.4,73.9 L290.6,75.2 L290.9,73.2 L291.1,74.1 L291.4,72.5 L291.6,73.4 L291.9,72.8 L292.1,74.5 L292.4,72.6 L292.6,74.6 L292.9,72.7 L293.1,74.3 L293.4,72.9 L293.6,74.6 L293.9,72.9 L294.1,74.8 L294.4,74.6 L294.6,76.7 L294.9,77.1 L295.1,81.1 L295.4,81.1 L295.6,80.2 L295.9,75.6 L296.1,73.4 L296.4,70.1 L296.6,70.4 L296.9,68.4 L297.1,68.4 L297.4,66.8 L297.6,67.2 L297.9,65.4 L298.1,67.1 L298.4,66.2 L298.6,67.4 L298.9,66.6 L299.1,68.1 L299.4,66.5 L299.6,67.8 L299.9,66.7 L300.1,68.8 L300.4,66.9 L300.6,68.9 L300.9,67.6 L301.1,69.8 L301.4,68.6 L301.6,70.1 L301.9,69.1 L302.1,70.4 L302.4,69.7 L302.6,71.0 L302.9,69.8 L303.1,71.5 L303.4,70.9 L303.6,72.3 L303.9,71.7 L304.1,72.6 L304.4,72.3 L304.6,73.6 L304.9,72.3 L305.1,74.4 L305.4,73.0 L305.6,74.8 L305.9,74.5 L306.1,76.6 L306.4,75.2 L306.6,77.8 L306.9,76.6 L307.1,79.7 L307.4,79.7 L307.6,82.8 L307.9,82.5 L308.1,86.4 L308.4,87.5 L308.6,91.2 L308.9,92.7 L309.1,96.5 L309.4,97.6 L309.6,101.8 L309.9,103.1 L310.1,105.8 L310.4,106.4 L310.6,109.7 L310.9,110.1 L311.1,113.2 L311.4,112.6 L311.6,115.6 L311.9,114.9 L312.1,117.4 L312.4,117.5 L312.6,119.2 L312.9,118.8 L313.1,120.4 L313.4,120.0 L313.6,121.4 L313.9,121.5 L314.1,122.3 L314.4,122.3 L314.6,123.0 L314.9,122.7 L315.1,123.3 L315.4,123.3 L315.6,123.9 L315.9,123.9 L316.1,124.2 L316.4,124.3 L316.6,124.5 L316.9,124.4 L317.1,124.6 L317.4,124.6 L317.6,124.7 L317.9,124.7 L318.1,124.9 L318.4,124.9 L318.6,125.0 L318.9,125.0 L319.1,125.1 L319.4,125.1 L319.6,125.1 M371.4,125.1 L371.6,125.1 L371.9,125.1 L372.1,125.1 L372.4,125.0 L372.6,125.0 L372.9,124.9 L373.1,124.9 L373.4,124.8 L373.6,124.8 L373.9,124.6 L374.1,124.7 L374.4,124.6 L374.6,124.6 L374.9,124.4 L375.1,124.4 L375.4,124.1 L375.6,124.1 L375.9,123.8 L376.1,123.8 L376.4,123.5 L376.6,123.4 L376.9,123.1 L377.1,123.1 L377.4,122.4 L377.6,122.4 L377.9,121.7 L378.1,121.9 L378.4,120.9 L378.6,121.1 L378.9,120.5 L379.1,120.3 L379.4,118.6 L379.6,118.8 L379.9,117.2 L380.1,117.3 L380.4,114.8 L380.6,115.6 L380.9,113.2 L381.1,113.5 L381.4,110.9 L381.6,111.2 L381.9,108.2 L382.1,108.3 L382.4,105.9 L382.6,105.2 L382.9,102.5 L383.1,102.5 L383.4,99.8 L383.6,99.9 L383.9,96.8 L384.1,96.6 L384.4,93.3 L384.6,93.8 L384.9,90.2 L385.1,90.3 L385.4,87.3 L385.6,87.5 L385.9,84.7 L386.1,84.9 L386.4,82.3 L386.6,82.3 L386.9,79.8 L387.1,79.6 L387.4,77.4 L387.6,77.9 L387.9,75.3 L388.1,76.0 L388.4,73.4 L388.6,73.8 L388.9,72.1 L389.1,72.8 L389.4,70.8 L389.6,71.4 L389.9,69.7 L390.1,70.7 L390.4,68.6 L390.6,70.3 L390.9,69.3 L391.1,70.4 L391.4,68.8 L391.6,70.7 L391.9,69.4 L392.1,71.3 L392.4,70.5 L392.6,72.1 L392.9,71.1 L393.1,73.8 L393.4,72.3 L393.6,75.4 L393.9,74.6 L394.1,77.4 L394.4,76.8 L394.6,79.8 L394.9,79.0 L395.1,82.2 L395.4,81.5 L395.6,84.5 L395.9,84.0 L396.1,85.7 L396.4,85.1 L396.6,87.0 L396.9,86.7 L397.1,88.2 L397.4,86.9 L397.6,89.5 L397.9,88.8 L398.1,90.2 L398.4,89.8 L398.6,90.6 L398.9,89.8 L399.1,91.2 L399.4,90.4 L399.6,91.4 L399.9,90.4 L400.1,92.5 L400.4,90.4 L400.6,91.3 L400.9,90.4 L401.1,91.8 L401.4,89.8 L401.6,90.9 L401.9,89.7 L402.1,91.4 L402.4,89.3 L402.6,90.5 L402.9,88.9 L403.1,90.4 L403.4,88.9 L403.6,90.0 L403.9,87.7 L404.1,88.0 L404.4,85.9 L404.6,85.8 L404.9,83.5 L405.1,84.4 L405.4,81.9 L405.6,82.5 L405.9,80.3 L406.1,80.7 L406.4,78.9 L406.6,78.9 L406.9,76.8 L407.1,77.2 L407.4,74.6 L407.6,75.3 L407.9,73.7 L408.1,74.6 L408.4,72.6 L408.6,73.7 L408.9,71.4 L409.1,72.7 L409.4,70.5 L409.6,71.2 L409.9,69.5 L410.1,70.3 L410.4,68.9 L410.6,69.4 L410.9,67.3 L411.1,68.3 L411.4,67.3 L411.6,68.2 L411.9,66.5 L412.1,66.9 L412.4,64.9 L412.6,66.2 L412.9,64.3 L413.1,65.5 L413.4,64.6 L413.6,66.5 L413.9,66.0 L414.1,67.4 L414.4,67.1 L414.6,69.1 L414.9,67.5 L415.1,69.2 L415.4,68.5 L415.6,69.5 L415.9,68.4 L416.1,69.3 L416.4,69.0 L416.6,70.0 L416.9,69.2 L417.1,69.8 L417.4,69.1 L417.6,70.1 L417.9,69.0 L418.1,70.6 L418.4,70.1 L418.6,72.8 L418.9,72.4 L419.1,74.1 L419.4,74.3 L419.6,76.1 L419.9,75.5 L420.1,78.8 L420.4,78.4 L420.6,79.7 L420.9,79.8 L421.1,82.0 L421.4,81.0 L421.6,82.6 L421.9,81.8 L422.1,84.7 L422.4,83.4 L422.6,85.0 L422.9,84.4 L423.1,86.0 L423.4,85.7 L423.6,87.9 L423.9,85.4 L424.1,85.7 L424.4,84.0 L424.6,84.6 L424.9,81.5 L425.1,82.2 L425.4,79.9 L425.6,81.2 L425.9,78.2 L426.1,78.8 L426.4,76.8 L426.6,76.6 L426.9,75.3 L427.1,76.0 L427.4,73.9 L427.6,74.3 L427.9,72.9 L428.1,73.2 L428.4,71.9 L428.6,72.0 L428.9,70.5 L429.1,71.6 L429.4,68.8 L429.6,69.7 L429.9,67.8 L430.1,68.5 L430.4,67.7 L430.6,70.5 L430.9,69.1 L431.1,71.2 L431.4,70.9 L431.6,71.8 L431.9,71.7 L432.1,73.1 L432.4,72.4 L432.6,74.5 L432.9,74.5 L433.1,75.7 L433.4,75.3 L433.6,77.5 L433.9,76.9 L434.1,78.8 L434.4,78.1 L434.6,80.9 L434.9,80.2 L435.1,82.1 L435.4,81.4 L435.6,83.4 L435.9,83.5 L436.1,84.8 L436.4,84.8 L436.6,86.4 L436.9,86.3 L437.1,88.4 L437.4,87.5 L437.6,88.8 L437.9,86.7 L438.1,87.6 L438.4,85.7 L438.6,85.7 L438.9,84.5 L439.1,84.5 L439.4,83.4 L439.6,84.2 L439.9,82.0 L440.1,82.6 L440.4,80.4 L440.6,81.1 L440.9,78.8 L441.1,79.7 L441.4,78.3 L441.6,78.4 L441.9,76.9 L442.1,77.3 L442.4,75.6 L442.6,76.1 L442.9,74.2 L443.1,74.7 L443.4,72.7 L443.6,73.1 L443.9,71.4 L444.1,72.2 L444.4,70.0 L444.6,71.2 L444.9,69.1 L445.1,69.6 L445.4,68.0 L445.6,68.7 L445.9,66.5 L446.1,67.5 L446.4,66.1 L446.6,67.0 L446.9,65.5 L447.1,66.1 L447.4,64.7 L447.6,66.8 L447.9,65.3 L448.1,67.1 L448.4,66.1 L448.6,67.5 L448.9,65.5 L449.1,66.0 L449.4,64.8 L449.6,65.6 L449.9,63.8 L450.1,65.7 L450.4,63.6 L450.6,64.9 L450.9,63.5 L451.1,64.1 L451.4,62.5 L451.6,63.7 L451.9,62.5 L452.1,64.2 L452.4,62.3 L452.6,63.7 L452.9,62.6 L453.1,65.1 L453.4,64.8 L453.6,67.5 L453.9,67.4 L454.1,69.4 L454.4,69.6 L454.6,72.1 L454.9,73.0 L455.1,75.3 L455.4,75.8 L455.6,79.5 L455.9,79.1 L456.1,81.6 L456.4,81.0 L456.6,83.3 L456.9,82.3 L457.1,85.2 L457.4,83.9 L457.6,86.3 L457.9,85.8 L458.1,87.1 L458.4,85.4 L458.6,86.8 L458.9,84.4 L459.1,85.5 L459.4,83.4 L459.6,84.6 L459.9,83.0 L460.1,83.2 L460.4,82.0 L460.6,82.6 L460.9,80.8 L461.1,81.7 L461.4,79.4 L461.6,80.4 L461.9,78.1 L462.1,79.2 L462.4,77.3 L462.6,77.8 L462.9,76.0 L463.1,76.8 L463.4,74.4 L463.6,75.4 L463.9,73.4 L464.1,74.4 L464.4,72.9 L464.6,73.9 L464.9,72.4 L465.1,73.5 L465.4,71.4 L465.6,72.9 L465.9,71.1 L466.1,72.8 L466.4,70.7 L466.6,72.1 L466.9,70.7 L467.1,72.8 L467.4,71.4 L467.6,73.7 L467.9,72.2 L468.1,73.9 L468.4,73.7 L468.6,77.0 L468.9,77.1 L469.1,79.5 L469.4,79.9 L469.6,82.5 L469.9,83.3 L470.1,86.8 L470.4,87.2 L470.6,90.3 L470.9,91.6 L471.1,96.4 L471.4,97.5 L471.6,101.5 L471.9,103.0 L472.1,106.8 L472.4,108.3 L472.6,111.3 L472.9,111.9 L473.1,114.2 L473.4,114.4 L473.6,116.5 L473.9,116.0 L474.1,117.9 L474.4,118.0 L474.6,119.4 L474.9,119.0 L475.1,120.7 L475.4,120.4 L475.6,121.7 L475.9,121.1 L476.1,122.0 L476.4,122.0 L476.6,122.7 L476.9,122.5 L477.1,123.2 L477.4,123.3 L477.6,123.8 L477.9,123.7 L478.1,123.9 L478.4,123.9 L478.6,124.2 L478.9,124.3 L479.1,124.4 L479.4,124.5 L479.6,124.7 L479.9,124.7 L480.1,124.9 L480.4,124.8 L480.6,124.9 L480.9,124.9 L481.1,125.0 L481.4,125.0 L481.6,125.0 L481.9,125.0 L482.1,125.1 L482.4,125.1 L482.6,125.1 L482.9,125.1" fill="none" stroke="#f01818" stroke-width="0.45" stroke-linejoin="round" opacity="0.4"/><path d="M233.6,125.1 L233.8,125.1 L234.1,125.1 L234.3,125.0 L234.6,125.0 L234.8,124.9 L235.1,124.9 L235.3,124.9 L235.6,124.9 L235.8,124.8 L236.1,124.8 L236.3,124.7 L236.6,124.7 L236.8,124.5 L237.1,124.4 L237.3,124.1 L237.6,124.1 L237.8,123.7 L238.1,123.8 L238.3,123.5 L238.6,123.4 L238.8,123.1 L239.1,123.2 L239.3,122.8 L239.6,122.8 L239.8,122.0 L240.1,121.8 L240.3,120.9 L240.6,120.9 L240.8,119.9 L241.1,120.2 L241.3,118.9 L241.6,119.5 L241.8,117.4 L242.1,117.3 L242.3,115.8 L242.6,115.7 L242.8,113.8 L243.1,114.5 L243.3,111.2 L243.6,111.4 L243.8,108.2 L244.1,108.6 L244.3,105.1 L244.6,104.0 L244.8,100.1 L245.1,99.0 L245.3,95.6 L245.6,94.5 L245.8,90.8 L246.1,89.1 L246.3,84.8 L246.6,83.4 L246.8,79.1 L247.1,78.4 L247.3,74.7 L247.6,73.2 L247.8,69.7 L248.1,68.9 L248.3,66.4 L248.6,65.4 L248.8,63.6 L249.1,63.7 L249.3,61.7 L249.6,62.2 L249.8,60.3 L250.1,61.2 L250.3,59.7 L250.6,60.3 L250.8,58.2 L251.1,59.3 L251.3,57.9 L251.6,58.7 L251.8,57.7 L252.1,58.7 L252.3,56.8 L252.6,58.2 L252.8,56.7 L253.1,57.7 L253.3,55.5 L253.6,56.9 L253.8,54.9 L254.1,55.6 L254.3,53.1 L254.6,54.3 L254.8,52.5 L255.1,53.2 L255.3,50.7 L255.6,51.0 L255.8,49.5 L256.1,49.5 L256.4,47.4 L256.6,47.8 L256.9,46.3 L257.1,47.4 L257.4,45.8 L257.6,47.0 L257.9,44.9 L258.1,45.9 L258.4,45.0 L258.6,46.2 L258.9,45.2 L259.1,47.8 L259.4,47.0 L259.6,48.8 L259.9,47.6 L260.1,50.5 L260.4,50.1 L260.6,53.4 L260.9,53.0 L261.1,55.6 L261.4,55.3 L261.6,57.7 L261.9,57.2 L262.1,60.3 L262.4,60.3 L262.6,61.7 L262.9,62.1 L263.1,65.0 L263.4,64.0 L263.6,66.5 L263.9,65.6 L264.1,67.7 L264.4,67.1 L264.6,69.0 L264.9,68.2 L265.1,69.8 L265.4,69.3 L265.6,70.8 L265.9,70.2 L266.1,72.3 L266.4,71.6 L266.6,73.6 L266.9,72.1 L267.1,74.4 L267.4,73.4 L267.6,74.8 L267.9,73.3 L268.1,75.5 L268.4,74.7 L268.6,76.2 L268.9,75.2 L269.1,77.2 L269.4,75.6 L269.6,76.7 L269.9,75.7 L270.1,76.0 L270.4,74.4 L270.6,74.7 L270.9,72.8 L271.1,73.9 L271.4,72.4 L271.6,73.2 L271.9,71.3 L272.1,72.3 L272.4,70.8 L272.6,71.3 L272.9,69.3 L273.1,70.5 L273.4,68.4 L273.6,69.8 L273.9,67.9 L274.1,68.0 L274.4,66.8 L274.6,67.0 L274.9,65.8 L275.1,66.8 L275.4,64.2 L275.6,65.2 L275.9,63.6 L276.1,63.8 L276.4,61.8 L276.6,62.5 L276.9,60.9 L277.1,61.6 L277.4,59.4 L277.6,60.8 L277.9,58.7 L278.1,59.5 L278.4,57.7 L278.6,57.7 L278.9,56.3 L279.1,57.3 L279.4,55.0 L279.6,55.8 L279.9,54.3 L280.1,56.5 L280.4,56.3 L280.6,58.8 L280.9,58.9 L281.1,61.3 L281.4,60.3 L281.6,62.7 L281.9,61.8 L282.1,64.4 L282.4,63.4 L282.6,65.5 L282.9,64.3 L283.1,66.6 L283.4,65.4 L283.6,67.7 L283.9,67.2 L284.1,69.2 L284.4,68.1 L284.6,69.8 L284.9,68.3 L285.1,69.7 L285.4,68.8 L285.6,69.8 L285.9,68.6 L286.1,70.0 L286.4,68.0 L286.6,69.6 L286.9,67.4 L287.1,68.2 L287.4,66.4 L287.6,67.6 L287.9,66.1 L288.1,66.6 L288.4,64.9 L288.6,66.0 L288.9,63.8 L289.1,65.2 L289.4,64.0 L289.6,64.3 L289.9,63.2 L290.1,64.1 L290.4,62.3 L290.6,63.0 L290.9,61.5 L291.1,62.6 L291.4,60.8 L291.6,62.6 L291.9,61.2 L292.1,62.4 L292.4,61.6 L292.6,62.6 L292.9,61.1 L293.1,62.8 L293.4,61.6 L293.6,63.2 L293.9,62.3 L294.1,63.4 L294.4,62.4 L294.6,64.3 L294.9,63.7 L295.1,65.8 L295.4,64.2 L295.6,63.5 L295.9,60.8 L296.1,60.3 L296.4,57.7 L296.6,58.1 L296.9,55.8 L297.1,55.7 L297.4,53.5 L297.6,54.1 L297.9,52.8 L298.1,53.8 L298.4,52.6 L298.6,54.3 L298.9,53.5 L299.1,55.0 L299.4,53.2 L299.6,55.1 L299.9,54.1 L300.1,55.2 L300.4,54.2 L300.6,56.2 L300.9,55.2 L301.1,56.8 L301.4,55.4 L301.6,57.3 L301.9,56.4 L302.1,58.3 L302.4,56.7 L302.6,59.0 L302.9,57.6 L303.1,59.7 L303.4,58.3 L303.6,59.9 L303.9,59.6 L304.1,60.9 L304.4,59.6 L304.6,61.7 L304.9,61.0 L305.1,62.1 L305.4,61.7 L305.6,64.2 L305.9,63.1 L306.1,65.4 L306.4,64.4 L306.6,66.4 L306.9,66.1 L307.1,68.8 L307.4,69.4 L307.6,72.9 L307.9,73.7 L308.1,77.3 L308.4,79.6 L308.6,84.2 L308.9,85.0 L309.1,89.9 L309.4,91.3 L309.6,96.2 L309.9,98.1 L310.1,101.9 L310.4,102.6 L310.6,106.0 L310.9,106.9 L311.1,110.2 L311.4,110.3 L311.6,113.0 L311.9,112.2 L312.1,115.4 L312.4,115.7 L312.6,117.7 L312.9,117.5 L313.1,119.0 L313.4,118.9 L313.6,120.3 L313.9,120.6 L314.1,121.8 L314.4,121.5 L314.6,122.3 L314.9,122.3 L315.1,122.9 L315.4,122.9 L315.6,123.4 L315.9,123.5 L316.1,124.0 L316.4,124.1 L316.6,124.3 L316.9,124.2 L317.1,124.4 L317.4,124.4 L317.6,124.6 L317.9,124.6 L318.1,124.8 L318.4,124.8 L318.6,125.0 L318.9,125.0 L319.1,125.1 L319.4,125.1 L319.6,125.1 M371.4,125.1 L371.6,125.1 L371.9,125.0 L372.1,125.0 L372.4,125.0 L372.6,125.0 L372.9,124.8 L373.1,124.8 L373.4,124.7 L373.6,124.7 L373.9,124.5 L374.1,124.5 L374.4,124.3 L374.6,124.4 L374.9,124.2 L375.1,124.2 L375.4,123.9 L375.6,123.8 L375.9,123.4 L376.1,123.4 L376.4,122.9 L376.6,123.1 L376.9,122.6 L377.1,122.6 L377.4,121.8 L377.6,121.9 L377.9,120.9 L378.1,121.1 L378.4,120.2 L378.6,120.2 L378.9,119.3 L379.1,119.4 L379.4,117.3 L379.6,117.6 L379.9,115.5 L380.1,115.7 L380.4,113.3 L380.6,113.2 L380.9,110.9 L381.1,110.9 L381.4,108.2 L381.6,108.2 L381.9,105.1 L382.1,104.2 L382.4,101.3 L382.6,101.1 L382.9,97.6 L383.1,97.3 L383.4,94.5 L383.6,94.4 L383.9,90.8 L384.1,90.0 L384.4,86.7 L384.6,85.8 L384.9,83.0 L385.1,82.6 L385.4,79.4 L385.6,78.6 L385.9,75.7 L386.1,75.0 L386.4,72.5 L386.6,72.3 L386.9,69.4 L387.1,69.5 L387.4,66.6 L387.6,66.9 L387.9,64.7 L388.1,65.0 L388.4,62.5 L388.6,62.2 L388.9,60.2 L389.1,61.1 L389.4,58.9 L389.6,59.5 L389.9,57.5 L390.1,57.7 L390.4,55.8 L390.6,57.9 L390.9,56.7 L391.1,57.6 L391.4,56.7 L391.6,58.8 L391.9,57.3 L392.1,59.5 L392.4,58.7 L392.6,60.6 L392.9,59.8 L393.1,61.5 L393.4,60.7 L393.6,64.2 L393.9,63.6 L394.1,66.6 L394.4,67.2 L394.6,69.6 L394.9,69.6 L395.1,72.3 L395.4,72.3 L395.6,75.1 L395.9,74.9 L396.1,77.2 L396.4,76.1 L396.6,78.5 L396.9,77.4 L397.1,79.8 L397.4,78.8 L397.6,81.8 L397.9,81.0 L398.1,82.6 L398.4,81.0 L398.6,83.0 L398.9,81.6 L399.1,83.5 L399.4,82.3 L399.6,84.3 L399.9,83.4 L400.1,84.8 L400.4,83.1 L400.6,84.4 L400.9,82.8 L401.1,83.8 L401.4,82.4 L401.6,83.9 L401.9,81.6 L402.1,82.7 L402.4,81.7 L402.6,82.8 L402.9,80.9 L403.1,82.1 L403.4,81.0 L403.6,81.6 L403.9,79.1 L404.1,79.9 L404.4,76.8 L404.6,77.4 L404.9,74.7 L405.1,75.4 L405.4,72.2 L405.6,72.5 L405.9,70.3 L406.1,71.0 L406.4,68.2 L406.6,68.4 L406.9,66.1 L407.1,65.7 L407.4,63.5 L407.6,64.7 L407.9,63.0 L408.1,63.5 L408.4,61.5 L408.6,62.1 L408.9,59.7 L409.1,60.9 L409.4,58.9 L409.6,59.1 L409.9,57.0 L410.1,57.8 L410.4,56.0 L410.6,56.9 L410.9,54.4 L411.1,56.1 L411.4,53.8 L411.6,55.4 L411.9,52.9 L412.1,54.2 L412.4,52.2 L412.6,53.0 L412.9,51.5 L413.1,51.8 L413.4,51.5 L413.6,53.7 L413.9,52.7 L414.1,54.7 L414.4,54.2 L414.6,56.5 L414.9,55.5 L415.1,57.1 L415.4,55.6 L415.6,57.1 L415.9,55.5 L416.1,57.3 L416.4,56.1 L416.6,57.0 L416.9,56.3 L417.1,57.8 L417.4,56.6 L417.6,58.4 L417.9,56.6 L418.1,58.5 L418.4,58.7 L418.6,60.9 L418.9,60.7 L419.1,63.2 L419.4,63.0 L419.6,65.5 L419.9,65.1 L420.1,67.8 L420.4,67.7 L420.6,69.8 L420.9,69.7 L421.1,72.2 L421.4,71.4 L421.6,73.7 L421.9,72.9 L422.1,75.0 L422.4,73.8 L422.6,76.2 L422.9,75.8 L423.1,77.5 L423.4,77.1 L423.6,79.3 L423.9,76.3 L424.1,77.0 L424.4,74.4 L424.6,75.0 L424.9,72.2 L425.1,72.8 L425.4,70.3 L425.6,70.4 L425.9,67.7 L426.1,68.0 L426.4,66.0 L426.6,66.4 L426.9,64.2 L427.1,64.0 L427.4,62.8 L427.6,62.7 L427.9,61.1 L428.1,61.6 L428.4,59.8 L428.6,60.1 L428.9,58.0 L429.1,58.5 L429.4,56.5 L429.6,57.8 L429.9,55.7 L430.1,56.1 L430.4,55.6 L430.6,57.3 L430.9,56.5 L431.1,58.8 L431.4,58.4 L431.6,60.0 L431.9,59.6 L432.1,61.8 L432.4,60.9 L432.6,63.1 L432.9,62.8 L433.1,64.5 L433.4,64.2 L433.6,66.6 L433.9,66.1 L434.1,68.1 L434.4,68.7 L434.6,70.2 L434.9,70.5 L435.1,72.4 L435.4,72.1 L435.6,74.3 L435.9,74.0 L436.1,75.7 L436.4,76.0 L436.6,78.0 L436.9,77.7 L437.1,79.6 L437.4,79.9 L437.6,80.3 L437.9,78.2 L438.1,79.1 L438.4,76.9 L438.6,77.5 L438.9,75.0 L439.1,75.9 L439.4,74.2 L439.6,74.0 L439.9,72.3 L440.1,73.1 L440.4,71.0 L440.6,71.2 L440.9,69.1 L441.1,69.6 L441.4,67.7 L441.6,68.0 L441.9,66.0 L442.1,66.6 L442.4,64.5 L442.6,65.1 L442.9,62.9 L443.1,63.0 L443.4,61.5 L443.6,61.9 L443.9,59.3 L444.1,60.3 L444.4,57.6 L444.6,58.7 L444.9,56.3 L445.1,57.0 L445.4,55.0 L445.6,55.7 L445.9,54.2 L446.1,54.6 L446.4,52.4 L446.6,53.9 L446.9,52.1 L447.1,53.1 L447.4,51.3 L447.6,53.6 L447.9,52.7 L448.1,54.0 L448.4,52.8 L448.6,53.7 L448.9,51.8 L449.1,52.9 L449.4,51.3 L449.6,52.3 L449.9,50.2 L450.1,51.1 L450.4,50.0 L450.6,51.0 L450.9,49.1 L451.1,50.6 L451.4,48.4 L451.6,50.0 L451.9,48.7 L452.1,49.7 L452.4,48.9 L452.6,50.3 L452.9,49.1 L453.1,51.6 L453.4,51.4 L453.6,54.3 L453.9,54.1 L454.1,57.0 L454.4,57.5 L454.6,60.9 L454.9,61.0 L455.1,64.8 L455.4,65.5 L455.6,68.5 L455.9,69.1 L456.1,72.2 L456.4,71.3 L456.6,74.1 L456.9,73.3 L457.1,76.2 L457.4,75.6 L457.6,77.9 L457.9,77.4 L458.1,79.0 L458.4,77.1 L458.6,77.5 L458.9,75.3 L459.1,76.7 L459.4,74.3 L459.6,75.4 L459.9,73.5 L460.1,74.1 L460.4,72.8 L460.6,73.7 L460.9,71.0 L461.1,71.7 L461.4,70.1 L461.6,70.4 L461.9,68.3 L462.1,68.6 L462.4,66.5 L462.6,67.7 L462.9,65.1 L463.1,65.7 L463.4,63.6 L463.6,64.1 L463.9,62.0 L464.1,63.1 L464.4,61.1 L464.6,62.9 L464.9,60.8 L465.1,61.4 L465.4,60.0 L465.6,61.3 L465.9,59.8 L466.1,60.3 L466.4,59.0 L466.6,60.4 L466.9,58.8 L467.1,60.9 L467.4,59.6 L467.6,62.0 L467.9,60.9 L468.1,62.1 L468.4,62.9 L468.6,65.9 L468.9,66.4 L469.1,69.3 L469.4,70.1 L469.6,73.0 L469.9,74.3 L470.1,78.2 L470.4,78.7 L470.6,83.0 L470.9,84.8 L471.1,89.5 L471.4,91.9 L471.6,96.9 L471.9,98.2 L472.1,102.8 L472.4,104.7 L472.6,108.8 L472.9,109.2 L473.1,112.3 L473.4,112.7 L473.6,115.1 L473.9,114.0 L474.1,116.3 L474.4,116.5 L474.6,118.4 L474.9,118.1 L475.1,119.7 L475.4,119.7 L475.6,120.5 L475.9,120.6 L476.1,121.2 L476.4,121.3 L476.6,122.0 L476.9,122.0 L477.1,122.7 L477.4,122.9 L477.6,123.3 L477.9,123.3 L478.1,123.6 L478.4,123.7 L478.6,124.0 L478.9,124.0 L479.1,124.2 L479.4,124.3 L479.6,124.5 L479.9,124.6 L480.1,124.8 L480.4,124.7 L480.6,124.8 L480.9,124.8 L481.1,124.9 L481.4,124.9 L481.6,124.9 L481.9,124.9 L482.1,125.0 L482.4,125.0 L482.6,125.1 L482.9,125.1" fill="none" stroke="#3a7bd0" stroke-width="0.45" stroke-linejoin="round" opacity="0.4"/><path d="M233.6,125.1 L233.8,125.0 L234.1,125.0 L234.3,124.9 L234.6,124.9 L234.8,124.9 L235.1,124.8 L235.3,124.8 L235.6,124.8 L235.8,124.7 L236.1,124.7 L236.3,124.6 L236.6,124.6 L236.8,124.3 L237.1,124.2 L237.3,123.9 L237.6,123.8 L237.8,123.5 L238.1,123.4 L238.3,123.1 L238.6,123.0 L238.8,122.7 L239.1,122.8 L239.3,122.3 L239.6,122.2 L239.8,121.4 L240.1,121.1 L240.3,120.1 L240.6,120.1 L240.8,119.0 L241.1,119.0 L241.3,117.6 L241.6,118.1 L241.8,116.1 L242.1,115.7 L242.3,113.8 L242.6,114.0 L242.8,111.4 L243.1,111.4 L243.3,108.6 L243.6,108.0 L243.8,104.9 L244.1,104.5 L244.3,101.2 L244.6,99.2 L244.8,95.2 L245.1,94.2 L245.3,88.9 L245.6,87.7 L245.8,82.5 L246.1,81.4 L246.3,76.6 L246.6,74.7 L246.8,69.9 L247.1,67.9 L247.3,63.4 L247.6,62.1 L247.8,58.2 L248.1,56.5 L248.3,53.0 L248.6,53.2 L248.8,50.4 L249.1,50.3 L249.3,48.3 L249.6,49.0 L249.8,47.4 L250.1,47.9 L250.3,45.7 L250.6,45.8 L250.8,44.3 L251.1,44.8 L251.3,43.6 L251.6,44.6 L251.8,43.3 L252.1,44.1 L252.3,42.4 L252.6,43.6 L252.8,42.2 L253.1,43.2 L253.3,42.0 L253.6,42.1 L253.8,40.2 L254.1,40.8 L254.3,38.6 L254.6,39.3 L254.8,37.1 L255.1,37.2 L255.3,35.3 L255.6,35.8 L255.8,32.6 L256.1,33.0 L256.4,31.4 L256.6,32.1 L256.9,30.3 L257.1,30.7 L257.4,28.8 L257.6,30.1 L257.9,28.5 L258.1,29.6 L258.4,27.9 L258.6,29.5 L258.9,29.1 L259.1,31.2 L259.4,30.0 L259.6,32.2 L259.9,32.1 L260.1,34.1 L260.4,34.0 L260.6,37.7 L260.9,37.9 L261.1,41.0 L261.4,41.1 L261.6,43.9 L261.9,43.2 L262.1,46.0 L262.4,46.1 L262.6,48.6 L262.9,48.7 L263.1,51.4 L263.4,51.1 L263.6,54.2 L263.9,53.7 L264.1,55.5 L264.4,54.6 L264.6,56.5 L264.9,56.6 L265.1,58.4 L265.4,57.2 L265.6,59.3 L265.9,58.3 L266.1,60.7 L266.4,59.9 L266.6,62.1 L266.9,61.6 L267.1,63.3 L267.4,62.4 L267.6,63.4 L267.9,62.9 L268.1,64.3 L268.4,63.9 L268.6,65.8 L268.9,64.2 L269.1,65.9 L269.4,65.2 L269.6,66.2 L269.9,64.2 L270.1,65.9 L270.4,63.2 L270.6,64.4 L270.9,62.6 L271.1,63.3 L271.4,61.1 L271.6,62.4 L271.9,60.8 L272.1,61.2 L272.4,59.1 L272.6,59.7 L272.9,58.3 L273.1,58.8 L273.4,57.0 L273.6,57.6 L273.9,55.4 L274.1,55.9 L274.4,54.3 L274.6,55.4 L274.9,53.4 L275.1,53.6 L275.4,51.4 L275.6,52.6 L275.9,49.8 L276.1,51.2 L276.4,48.3 L276.6,49.4 L276.9,47.1 L277.1,47.2 L277.4,45.9 L277.6,46.5 L277.9,44.5 L278.1,44.9 L278.4,42.8 L278.6,43.7 L278.9,41.5 L279.1,42.3 L279.4,40.2 L279.6,40.6 L279.9,39.0 L280.1,41.8 L280.4,41.9 L280.6,44.2 L280.9,44.4 L281.1,46.6 L281.4,46.8 L281.6,49.2 L281.9,48.5 L282.1,50.8 L282.4,51.0 L282.6,52.0 L282.9,51.7 L283.1,54.0 L283.4,53.4 L283.6,55.5 L283.9,54.6 L284.1,57.2 L284.4,56.3 L284.6,58.0 L284.9,56.3 L285.1,58.3 L285.4,56.3 L285.6,57.6 L285.9,56.9 L286.1,58.2 L286.4,56.1 L286.6,57.7 L286.9,55.6 L287.1,56.4 L287.4,54.7 L287.6,55.5 L287.9,53.9 L288.1,54.0 L288.4,52.7 L288.6,53.5 L288.9,51.5 L289.1,52.8 L289.4,50.4 L289.6,51.5 L289.9,49.7 L290.1,50.5 L290.4,49.0 L290.6,50.1 L290.9,48.1 L291.1,49.1 L291.4,47.7 L291.6,48.9 L291.9,48.1 L292.1,49.5 L292.4,47.6 L292.6,49.8 L292.9,48.1 L293.1,49.1 L293.4,47.7 L293.6,49.5 L293.9,48.8 L294.1,49.8 L294.4,49.8 L294.6,51.2 L294.9,51.2 L295.1,52.5 L295.4,51.7 L295.6,51.1 L295.9,47.3 L296.1,46.4 L296.4,43.0 L296.6,43.2 L296.9,41.3 L297.1,40.8 L297.4,39.0 L297.6,39.1 L297.9,37.3 L298.1,38.7 L298.4,37.4 L298.6,39.5 L298.9,37.6 L299.1,39.6 L299.4,38.0 L299.6,39.8 L299.9,39.1 L300.1,40.6 L300.4,39.5 L300.6,41.1 L300.9,40.0 L301.1,41.9 L301.4,41.3 L301.6,43.5 L301.9,42.1 L302.1,44.2 L302.4,42.9 L302.6,45.3 L302.9,43.5 L303.1,45.7 L303.4,44.5 L303.6,46.5 L303.9,45.4 L304.1,47.3 L304.4,46.3 L304.6,47.9 L304.9,47.2 L305.1,48.9 L305.4,48.1 L305.6,50.2 L305.9,49.9 L306.1,52.2 L306.4,51.9 L306.6,54.5 L306.9,53.3 L307.1,56.8 L307.4,58.0 L307.6,61.9 L307.9,63.0 L308.1,67.6 L308.4,69.6 L308.6,74.6 L308.9,77.4 L309.1,82.0 L309.4,84.7 L309.6,89.9 L309.9,91.9 L310.1,96.7 L310.4,97.8 L310.6,101.5 L310.9,103.2 L311.1,106.3 L311.4,107.3 L311.6,109.7 L311.9,110.4 L312.1,113.2 L312.4,113.4 L312.6,115.6 L312.9,115.9 L313.1,117.7 L313.4,117.7 L313.6,119.1 L313.9,119.8 L314.1,120.9 L314.4,120.9 L314.6,121.7 L314.9,121.6 L315.1,122.2 L315.4,122.4 L315.6,123.0 L315.9,123.2 L316.1,123.7 L316.4,123.7 L316.6,124.0 L316.9,124.0 L317.1,124.3 L317.4,124.2 L317.6,124.4 L317.9,124.5 L318.1,124.7 L318.4,124.7 L318.6,124.8 L318.9,124.9 L319.1,125.0 L319.4,125.0 L319.6,125.1 M371.4,125.1 L371.6,125.0 L371.9,125.0 L372.1,125.0 L372.4,124.9 L372.6,124.9 L372.9,124.7 L373.1,124.7 L373.4,124.5 L373.6,124.6 L373.9,124.4 L374.1,124.4 L374.4,124.2 L374.6,124.2 L374.9,124.0 L375.1,124.0 L375.4,123.5 L375.6,123.5 L375.9,123.0 L376.1,123.0 L376.4,122.5 L376.6,122.5 L376.9,122.0 L377.1,122.0 L377.4,121.1 L377.6,120.8 L377.9,120.1 L378.1,120.0 L378.4,119.0 L378.6,119.2 L378.9,118.0 L379.1,117.6 L379.4,115.7 L379.6,115.4 L379.9,113.2 L380.1,112.9 L380.4,110.1 L380.6,110.9 L380.9,108.3 L381.1,107.7 L381.4,104.2 L381.6,103.5 L381.9,101.0 L382.1,100.4 L382.4,97.0 L382.6,95.7 L382.9,92.5 L383.1,91.6 L383.4,88.6 L383.6,87.0 L383.9,83.4 L384.1,82.6 L384.4,78.5 L384.6,77.6 L384.9,74.0 L385.1,73.2 L385.4,69.9 L385.6,68.8 L385.9,64.8 L386.1,64.4 L386.4,61.0 L386.6,60.9 L386.9,57.8 L387.1,57.2 L387.4,54.7 L387.6,54.8 L387.9,51.8 L388.1,51.1 L388.4,48.7 L388.6,48.5 L388.9,46.7 L389.1,46.9 L389.4,44.6 L389.6,45.2 L389.9,43.6 L390.1,43.7 L390.4,41.3 L390.6,42.8 L390.9,42.3 L391.1,43.8 L391.4,42.9 L391.6,43.9 L391.9,42.9 L392.1,44.8 L392.4,44.4 L392.6,46.6 L392.9,45.7 L393.1,48.3 L393.4,48.3 L393.6,50.9 L393.9,51.4 L394.1,54.3 L394.4,54.2 L394.6,57.1 L394.9,57.6 L395.1,60.7 L395.4,60.8 L395.6,64.2 L395.9,64.5 L396.1,66.8 L396.4,66.7 L396.6,68.0 L396.9,67.4 L397.1,70.3 L397.4,69.5 L397.6,71.9 L397.9,71.4 L398.1,73.4 L398.4,72.1 L398.6,74.0 L398.9,73.0 L399.1,74.7 L399.4,73.6 L399.6,75.1 L399.9,74.1 L400.1,76.1 L400.4,74.8 L400.6,75.5 L400.9,74.1 L401.1,74.9 L401.4,73.4 L401.6,74.6 L401.9,72.8 L402.1,73.7 L402.4,72.0 L402.6,73.1 L402.9,72.0 L403.1,73.0 L403.4,71.4 L403.6,72.6 L403.9,70.0 L404.1,69.5 L404.4,67.5 L404.6,66.9 L404.9,64.5 L405.1,64.1 L405.4,61.4 L405.6,61.6 L405.9,58.8 L406.1,58.9 L406.4,56.6 L406.6,56.1 L406.9,53.8 L407.1,53.0 L407.4,51.4 L407.6,52.2 L407.9,48.9 L408.1,49.8 L408.4,47.7 L408.6,48.8 L408.9,46.0 L409.1,47.1 L409.4,45.1 L409.6,44.6 L409.9,42.6 L410.1,43.3 L410.4,41.7 L410.6,41.6 L410.9,39.6 L411.1,41.2 L411.4,39.0 L411.6,39.6 L411.9,38.1 L412.1,38.8 L412.4,36.5 L412.6,37.8 L412.9,35.8 L413.1,36.4 L413.4,35.9 L413.6,37.7 L413.9,38.0 L414.1,39.5 L414.4,39.2 L414.6,41.0 L414.9,40.6 L415.1,41.9 L415.4,40.9 L415.6,42.6 L415.9,41.0 L416.1,42.4 L416.4,41.8 L416.6,43.3 L416.9,41.8 L417.1,43.6 L417.4,42.1 L417.6,43.7 L417.9,42.0 L418.1,44.5 L418.4,43.9 L418.6,47.1 L418.9,46.9 L419.1,49.5 L419.4,49.9 L419.6,52.1 L419.9,53.2 L420.1,55.4 L420.4,55.7 L420.6,58.5 L420.9,58.5 L421.1,60.4 L421.4,59.9 L421.6,62.3 L421.9,61.8 L422.1,64.3 L422.4,63.3 L422.6,65.6 L422.9,65.0 L423.1,66.7 L423.4,66.8 L423.6,69.3 L423.9,66.7 L424.1,66.3 L424.4,63.5 L424.6,64.0 L424.9,61.3 L425.1,61.8 L425.4,58.4 L425.6,58.9 L425.9,56.7 L426.1,56.8 L426.4,53.6 L426.6,53.9 L426.9,51.0 L427.1,51.3 L427.4,49.6 L427.6,49.8 L427.9,47.4 L428.1,48.0 L428.4,45.9 L428.6,46.4 L428.9,44.0 L429.1,45.1 L429.4,42.5 L429.6,43.3 L429.9,40.8 L430.1,41.2 L430.4,40.2 L430.6,43.1 L430.9,42.8 L431.1,45.0 L431.4,44.0 L431.6,47.0 L431.9,46.4 L432.1,48.7 L432.4,47.5 L432.6,49.8 L432.9,49.8 L433.1,51.9 L433.4,51.5 L433.6,54.4 L433.9,53.9 L434.1,56.4 L434.4,56.0 L434.6,59.2 L434.9,58.1 L435.1,60.9 L435.4,60.6 L435.6,63.2 L435.9,63.0 L436.1,65.7 L436.4,65.5 L436.6,68.1 L436.9,68.0 L437.1,70.4 L437.4,69.6 L437.6,71.2 L437.9,68.5 L438.1,68.9 L438.4,66.6 L438.6,67.7 L438.9,65.1 L439.1,65.3 L439.4,63.5 L439.6,63.9 L439.9,61.7 L440.1,61.3 L440.4,59.1 L440.6,60.0 L440.9,57.3 L441.1,58.0 L441.4,55.2 L441.6,55.9 L441.9,53.7 L442.1,53.9 L442.4,51.7 L442.6,51.9 L442.9,49.6 L443.1,50.1 L443.4,47.7 L443.6,48.6 L443.9,45.8 L444.1,45.9 L444.4,43.6 L444.6,44.1 L444.9,41.6 L445.1,43.0 L445.4,40.7 L445.6,40.6 L445.9,39.1 L446.1,39.1 L446.4,36.9 L446.6,38.0 L446.9,36.9 L447.1,37.3 L447.4,36.5 L447.6,38.0 L447.9,37.4 L448.1,38.9 L448.4,37.4 L448.6,38.4 L448.9,36.8 L449.1,38.0 L449.4,35.6 L449.6,36.8 L449.9,34.6 L450.1,35.4 L450.4,34.2 L450.6,34.8 L450.9,33.1 L451.1,34.8 L451.4,33.1 L451.6,33.9 L451.9,32.6 L452.1,34.3 L452.4,33.0 L452.6,34.1 L452.9,33.7 L453.1,35.7 L453.4,36.7 L453.6,39.1 L453.9,39.5 L454.1,42.6 L454.4,43.1 L454.6,46.5 L454.9,47.4 L455.1,51.9 L455.4,53.1 L455.6,56.4 L455.9,57.9 L456.1,60.7 L456.4,60.1 L456.6,62.6 L456.9,62.9 L457.1,65.2 L457.4,65.3 L457.6,67.8 L457.9,67.7 L458.1,68.6 L458.4,66.8 L458.6,67.5 L458.9,65.5 L459.1,66.2 L459.4,63.6 L459.6,64.7 L459.9,62.7 L460.1,63.8 L460.4,60.8 L460.6,62.2 L460.9,59.3 L461.1,60.5 L461.4,58.3 L461.6,58.6 L461.9,56.3 L462.1,57.0 L462.4,54.0 L462.6,55.0 L462.9,52.5 L463.1,52.9 L463.4,50.4 L463.6,50.8 L463.9,49.2 L464.1,50.2 L464.4,48.0 L464.6,48.9 L464.9,46.9 L465.1,48.4 L465.4,46.7 L465.6,47.1 L465.9,45.5 L466.1,46.5 L466.4,44.6 L466.6,46.5 L466.9,45.1 L467.1,47.3 L467.4,46.2 L467.6,47.9 L467.9,47.2 L468.1,48.9 L468.4,49.5 L468.6,53.3 L468.9,54.1 L469.1,57.6 L469.4,58.3 L469.6,61.6 L469.9,62.7 L470.1,67.8 L470.4,69.8 L470.6,73.5 L470.9,76.1 L471.1,82.1 L471.4,84.8 L471.6,89.9 L471.9,93.2 L472.1,97.5 L472.4,101.0 L472.6,104.2 L472.9,105.4 L473.1,109.2 L473.4,110.0 L473.6,112.5 L473.9,112.7 L474.1,114.5 L474.4,114.3 L474.6,116.2 L474.9,116.5 L475.1,118.3 L475.4,118.7 L475.6,119.4 L475.9,119.4 L476.1,120.4 L476.4,120.6 L476.6,121.4 L476.9,121.5 L477.1,122.1 L477.4,122.4 L477.6,123.0 L477.9,122.9 L478.1,123.4 L478.4,123.3 L478.6,123.7 L478.9,123.7 L479.1,124.1 L479.4,124.1 L479.6,124.4 L479.9,124.5 L480.1,124.7 L480.4,124.6 L480.6,124.7 L480.9,124.7 L481.1,124.8 L481.4,124.8 L481.6,124.9 L481.9,124.9 L482.1,125.0 L482.4,125.0 L482.6,125.0 L482.9,125.0" fill="none" stroke="#165a10" stroke-width="0.45" stroke-linejoin="round" opacity="0.4"/></g>
<line x1="206.20" y1="133.50" x2="208.80" y2="133.50" stroke="#f8c4c4" stroke-width="0.8"/>
<text x="211.10" y="135.10" font-size="4.6" stroke="#333" stroke-width="0.08" textLength="44.60" lengthAdjust="spacingAndGlyphs" fill="#333">Lower (5th percentile)</text>
<line x1="267.70" y1="133.50" x2="270.80" y2="133.50" stroke="#d4e8e2" stroke-width="0.8"/>
<text x="273.10" y="135.10" font-size="4.6" stroke="#333" stroke-width="0.08" textLength="50.00" lengthAdjust="spacingAndGlyphs" fill="#333">Median (50th percentile)</text>
<line x1="329.20" y1="133.50" x2="331.50" y2="133.50" stroke="#dbe8d4" stroke-width="0.8"/>
<text x="333.80" y="135.10" font-size="4.6" stroke="#333" stroke-width="0.08" textLength="47.70" lengthAdjust="spacingAndGlyphs" fill="#333">Upper (95th percentile)</text>
<text x="197.40" y="158.80" font-size="7.4" textLength="21.00" lengthAdjust="spacingAndGlyphs" transform="rotate(-90 197.40 158.80)">Targets</text>
<text x="197.40" y="179.50" font-size="7.4" textLength="16.40" lengthAdjust="spacingAndGlyphs" transform="rotate(-90 197.40 179.50)">GDF2</text>
<rect x="248.00" y="141.80" width="60.00" height="10.90" fill="#b8d0ef"/>
<rect x="386.00" y="141.80" width="84.60" height="10.90" fill="#b8d0ef"/>
<line x1="308.00" y1="169.90" x2="386.00" y2="169.90" stroke="#cfcfcf" stroke-width="0.7"/>
<rect x="248.00" y="166.00" width="20.90" height="8.20" fill="#e5ad60"/>
<rect x="268.90" y="161.90" width="39.30" height="16.50" fill="#e5ad60"/>
<rect x="386.00" y="161.60" width="14.00" height="16.80" fill="#e5ad60"/>
<rect x="400.00" y="165.80" width="7.20" height="8.30" fill="#e5ad60"/>
<line x1="206.70" y1="185.30" x2="511.80" y2="185.30" stroke="#111" stroke-width="1.0"/>
<line x1="244.20" y1="183.60" x2="244.20" y2="185.30" stroke="#222" stroke-width="0.6"/>
<text x="244.20" y="182.80" font-size="4.5" stroke="#1a1a1a" stroke-width="0.1" textLength="20.00" lengthAdjust="spacingAndGlyphs" text-anchor="middle" fill="#1a1a1a">48.413 mb</text>
<line x1="286.45" y1="185.30" x2="286.45" y2="187.00" stroke="#222" stroke-width="0.6"/>
<text x="286.45" y="190.80" font-size="4.5" stroke="#1a1a1a" stroke-width="0.1" textLength="20.00" lengthAdjust="spacingAndGlyphs" text-anchor="middle" fill="#1a1a1a">48.414 mb</text>
<line x1="328.70" y1="183.60" x2="328.70" y2="185.30" stroke="#222" stroke-width="0.6"/>
<text x="328.70" y="182.80" font-size="4.5" stroke="#1a1a1a" stroke-width="0.1" textLength="20.00" lengthAdjust="spacingAndGlyphs" text-anchor="middle" fill="#1a1a1a">48.415 mb</text>
<line x1="370.95" y1="185.30" x2="370.95" y2="187.00" stroke="#222" stroke-width="0.6"/>
<text x="370.95" y="190.80" font-size="4.5" stroke="#1a1a1a" stroke-width="0.1" textLength="20.00" lengthAdjust="spacingAndGlyphs" text-anchor="middle" fill="#1a1a1a">48.416 mb</text>
<line x1="413.20" y1="183.60" x2="413.20" y2="185.30" stroke="#222" stroke-width="0.6"/>
<text x="413.20" y="182.80" font-size="4.5" stroke="#1a1a1a" stroke-width="0.1" textLength="20.00" lengthAdjust="spacingAndGlyphs" text-anchor="middle" fill="#1a1a1a">48.417 mb</text>
<line x1="455.45" y1="185.30" x2="455.45" y2="187.00" stroke="#222" stroke-width="0.6"/>
<text x="455.45" y="190.80" font-size="4.5" stroke="#1a1a1a" stroke-width="0.1" textLength="20.00" lengthAdjust="spacingAndGlyphs" text-anchor="middle" fill="#1a1a1a">48.418 mb</text>
<line x1="497.70" y1="183.60" x2="497.70" y2="185.30" stroke="#222" stroke-width="0.6"/>
<text x="497.70" y="182.80" font-size="4.5" stroke="#1a1a1a" stroke-width="0.1" textLength="20.00" lengthAdjust="spacingAndGlyphs" text-anchor="middle" fill="#1a1a1a">48.419 mb</text>
<text x="205.80" y="194.10" font-size="4.5" stroke="#1a1a1a" stroke-width="0.1" textLength="31.70" lengthAdjust="spacingAndGlyphs" fill="#1a1a1a">Chromosome 10</text>
<rect x="239.1" y="191.7" width="273.2" height="2.5" rx="1.2" fill="#fff" stroke="#9a9a9a" stroke-width="0.4"/>
<rect x="245.20" y="191.70" width="1.60" height="2.50" fill="#000"/>
<rect x="252.60" y="191.70" width="11.10" height="2.50" fill="#000"/>
<rect x="274.00" y="191.70" width="10.70" height="2.50" fill="#000"/>
<rect x="286.30" y="191.70" width="1.00" height="2.50" fill="#aaa"/>
<rect x="298.80" y="191.70" width="3.40" height="2.50" fill="#d0d0d0"/>
<rect x="302.20" y="191.70" width="6.10" height="2.50" fill="#b4b4b4"/>
<rect x="332.50" y="191.70" width="3.40" height="2.50" fill="#d0d0d0"/>
<rect x="336.90" y="191.70" width="3.00" height="2.50" fill="#d0d0d0"/>
<rect x="346.00" y="191.70" width="17.80" height="2.50" fill="#000"/>
<rect x="368.50" y="191.70" width="13.00" height="2.50" fill="#000"/>
<rect x="390.80" y="191.70" width="5.00" height="2.50" fill="#444"/>
<rect x="405.00" y="191.70" width="11.20" height="2.50" fill="#000"/>
<rect x="420.00" y="191.70" width="6.20" height="2.50" fill="#000"/>
<rect x="429.20" y="191.70" width="5.40" height="2.50" fill="#444"/>
<rect x="439.20" y="191.70" width="5.10" height="2.50" fill="#444"/>
<rect x="444.30" y="191.70" width="8.00" height="2.50" fill="#e0e0e0"/>
<rect x="452.30" y="191.70" width="12.30" height="2.50" fill="#000"/>
<rect x="470.80" y="191.70" width="8.00" height="2.50" fill="#000"/>
<rect x="484.90" y="191.70" width="2.00" height="2.50" fill="#000"/>
<rect x="496.90" y="191.70" width="5.40" height="2.50" fill="#444"/>
<path d="M315.7,191.6 L320.4,192.95 L315.7,194.29999999999998 Z M325.1,191.6 L320.4,192.95 L325.1,194.29999999999998 Z" fill="#a01024"/>
<line x1="336.60" y1="191.40" x2="336.60" y2="194.50" stroke="#e03030" stroke-width="0.6"/>
<text x="174.70" y="219.90" font-size="11.3" textLength="8.30" lengthAdjust="spacingAndGlyphs" fill="#000" font-weight="bold">D</text>
<rect x="180.10" y="258.50" width="37.80" height="9.40" fill="#c9cbdf"/>
<text x="181.50" y="265.40" font-size="6.8" stroke="#2a2a2a" stroke-width="0.04" textLength="34.70" lengthAdjust="spacingAndGlyphs">183 patients</text>
<text x="186.30" y="275.50" font-size="6.8" stroke="#2a2a2a" stroke-width="0.04" textLength="24.80" lengthAdjust="spacingAndGlyphs">Cohort 1</text>
<line x1="217.90" y1="263.30" x2="223.30" y2="263.30" stroke="#1a1a1a" stroke-width="0.9"/>
<line x1="223.30" y1="243.20" x2="223.30" y2="282.40" stroke="#1a1a1a" stroke-width="0.9"/>
<line x1="223.30" y1="243.70" x2="228.30" y2="243.70" stroke="#1a1a1a" stroke-width="0.9"/>
<path d="M227.70,241.60 L231.90,243.70 L227.70,245.80 Z" fill="#111"/>
<line x1="223.30" y1="281.90" x2="228.30" y2="281.90" stroke="#1a1a1a" stroke-width="0.9"/>
<path d="M227.70,279.80 L231.90,281.90 L227.70,284.00 Z" fill="#111"/>
<rect x="232.40" y="238.90" width="38.50" height="9.80" fill="#c9cbdf"/>
<text x="234.30" y="245.90" font-size="6.8" stroke="#2a2a2a" stroke-width="0.04" textLength="34.90" lengthAdjust="spacingAndGlyphs">147 patients</text>
<rect x="232.70" y="277.70" width="38.50" height="8.60" fill="#c9cbdf"/>
<text x="236.20" y="284.10" font-size="6.8" stroke="#2a2a2a" stroke-width="0.04" textLength="31.50" lengthAdjust="spacingAndGlyphs">36 patients</text>
<text x="251.50" y="294.90" font-size="6.7" stroke="#2a2a2a" stroke-width="0.04" textLength="68.30" lengthAdjust="spacingAndGlyphs" text-anchor="middle">No candidate variants in</text>
<text x="205.80" y="302.60" font-size="6.7" textLength="92.30" lengthAdjust="spacingAndGlyphs" stroke-width="0.04"><tspan fill="#2a2a2a" stroke="#2a2a2a" font-style="italic">ENG, ACVRL1, SMAD4</tspan><tspan fill="#2a2a2a" stroke="#2a2a2a"> or </tspan><tspan fill="#2a2a2a" stroke="#2a2a2a" font-style="italic">GDF2</tspan></text>
<path d="M273.0,236.8 C275.0,236.8 274.6,238 274.6,240.5 L274.6,242.3 C274.6,243.3 275.2,243.6 276.0,243.6 C275.2,243.6 274.6,243.9 274.6,244.9 L274.6,247 C274.6,249.5 275.0,250.4 273.0,250.4" fill="none" stroke="#333" stroke-width="0.7"/>
<rect x="277.80" y="236.10" width="58.80" height="14.80" fill="#c9cbdf"/>
<text x="279.10" y="242.30" font-size="6.7" textLength="56.10" lengthAdjust="spacingAndGlyphs" stroke-width="0.04"><tspan fill="#c0284a" stroke="#c0284a" stroke-width="0.18">127</tspan><tspan fill="#2a2a2a" stroke="#2a2a2a"> distinct variants</tspan></text>
<text x="279.10" y="249.60" font-size="6.7" textLength="44.70" lengthAdjust="spacingAndGlyphs" stroke-width="0.04"><tspan fill="#4f6f60" stroke="#4f6f60">(64 </tspan><tspan fill="#3d7d5d" stroke="#3d7d5d">[50%]</tspan><tspan fill="#2a2a2a" stroke="#2a2a2a"> novel)</tspan></text>
<text x="283.20" y="259.60" font-size="6.7" stroke="#2a2a2a" stroke-width="0.04" textLength="50.70" lengthAdjust="spacingAndGlyphs">168 alleles carried</text>
<line x1="336.60" y1="243.70" x2="341.50" y2="243.70" stroke="#1a1a1a" stroke-width="0.9"/>
<line x1="341.50" y1="243.70" x2="341.50" y2="282.30" stroke="#1a1a1a" stroke-width="0.9"/>
<line x1="341.50" y1="243.90" x2="349.90" y2="243.90" stroke="#1a1a1a" stroke-width="0.9"/>
<path d="M349.30,241.80 L353.50,243.90 L349.30,246.00 Z" fill="#111"/>
<line x1="341.50" y1="282.30" x2="349.90" y2="282.30" stroke="#1a1a1a" stroke-width="0.9"/>
<path d="M349.30,280.20 L353.50,282.30 L349.30,284.40 Z" fill="#111"/>
<rect x="353.90" y="235.80" width="56.50" height="15.70" fill="#c9cbdf"/>
<text x="358.80" y="242.40" font-size="6.7" textLength="43.90" lengthAdjust="spacingAndGlyphs" stroke-width="0.04"><tspan fill="#c0284a" stroke="#c0284a" stroke-width="0.18">106</tspan><tspan fill="#2a2a2a" stroke="#2a2a2a"> pathogenic</tspan></text>
<text x="358.50" y="250.00" font-size="6.7" textLength="45.30" lengthAdjust="spacingAndGlyphs" stroke-width="0.04"><tspan fill="#4f6f60" stroke="#4f6f60">(55 </tspan><tspan fill="#3d7d5d" stroke="#3d7d5d">[52%]</tspan><tspan fill="#2a2a2a" stroke="#2a2a2a"> novel)</tspan></text>
<rect x="353.80" y="274.00" width="56.30" height="16.60" fill="#c9cbdf"/>
<text x="355.20" y="280.40" font-size="6.7" textLength="53.70" lengthAdjust="spacingAndGlyphs" stroke-width="0.04"><tspan fill="#c0284a" stroke="#c0284a" stroke-width="0.18">21</tspan><tspan fill="#2a2a2a" stroke="#2a2a2a"> non-pathogenic</tspan></text>
<text x="355.20" y="288.30" font-size="6.7" textLength="41.90" lengthAdjust="spacingAndGlyphs" stroke-width="0.04"><tspan fill="#4f6f60" stroke="#4f6f60">(9 </tspan><tspan fill="#3d7d5d" stroke="#3d7d5d">[43%]</tspan><tspan fill="#2a2a2a" stroke="#2a2a2a"> novel)</tspan></text>
<line x1="410.40" y1="243.80" x2="415.40" y2="243.80" stroke="#1a1a1a" stroke-width="0.9"/>
<line x1="415.40" y1="234.30" x2="415.40" y2="253.80" stroke="#1a1a1a" stroke-width="0.9"/>
<line x1="415.40" y1="234.30" x2="423.10" y2="234.30" stroke="#1a1a1a" stroke-width="0.9"/>
<path d="M422.50,232.20 L426.70,234.30 L422.50,236.40 Z" fill="#111"/>
<line x1="415.40" y1="253.80" x2="423.10" y2="253.80" stroke="#1a1a1a" stroke-width="0.9"/>
<path d="M422.50,251.70 L426.70,253.80 L422.50,255.90 Z" fill="#111"/>
<line x1="410.10" y1="282.30" x2="415.30" y2="282.30" stroke="#1a1a1a" stroke-width="0.9"/>
<line x1="415.30" y1="272.80" x2="415.30" y2="292.30" stroke="#1a1a1a" stroke-width="0.9"/>
<line x1="415.30" y1="272.80" x2="423.00" y2="272.80" stroke="#1a1a1a" stroke-width="0.9"/>
<path d="M422.40,270.70 L426.60,272.80 L422.40,274.90 Z" fill="#111"/>
<line x1="415.30" y1="292.30" x2="423.00" y2="292.30" stroke="#1a1a1a" stroke-width="0.9"/>
<path d="M422.40,290.20 L426.60,292.30 L422.40,294.40 Z" fill="#111"/>
<rect x="426.90" y="226.00" width="88.90" height="16.40" fill="#c9cbdf"/>
<text x="431.80" y="232.90" font-size="6.7" textLength="41.00" lengthAdjust="spacingAndGlyphs" stroke-width="0.04"><tspan fill="#c0284a" stroke="#c0284a" stroke-width="0.18">68</tspan><tspan fill="#2a2a2a" stroke="#2a2a2a"> pathogenic</tspan></text>
<text x="431.80" y="240.20" font-size="6.7" textLength="45.50" lengthAdjust="spacingAndGlyphs" stroke-width="0.04"><tspan fill="#4f6f60" stroke="#4f6f60">(39 </tspan><tspan fill="#3d7d5d" stroke="#3d7d5d">[57%]</tspan><tspan fill="#2a2a2a" stroke="#2a2a2a"> novel)</tspan></text>
<rect x="426.90" y="245.60" width="88.90" height="16.40" fill="#c9cbdf"/>
<text x="431.80" y="252.50" font-size="6.7" textLength="56.90" lengthAdjust="spacingAndGlyphs" stroke-width="0.04"><tspan fill="#c0284a" stroke="#c0284a" stroke-width="0.18">38</tspan><tspan fill="#2a2a2a" stroke="#2a2a2a"> likely pathogenic</tspan></text>
<text x="431.80" y="259.80" font-size="6.7" textLength="45.50" lengthAdjust="spacingAndGlyphs" stroke-width="0.04"><tspan fill="#4f6f60" stroke="#4f6f60">(16 </tspan><tspan fill="#3d7d5d" stroke="#3d7d5d">[42%]</tspan><tspan fill="#2a2a2a" stroke="#2a2a2a"> novel)</tspan></text>
<rect x="426.90" y="264.50" width="88.90" height="16.30" fill="#c9cbdf"/>
<text x="431.80" y="271.40" font-size="6.7" textLength="83.30" lengthAdjust="spacingAndGlyphs" stroke-width="0.04"><tspan fill="#c0284a" stroke="#c0284a" stroke-width="0.18">6</tspan><tspan fill="#2a2a2a" stroke="#2a2a2a"> uncertain significance (VUS)</tspan></text>
<text x="431.80" y="278.70" font-size="6.7" textLength="41.70" lengthAdjust="spacingAndGlyphs" stroke-width="0.04"><tspan fill="#4f6f60" stroke="#4f6f60">(4 </tspan><tspan fill="#3d7d5d" stroke="#3d7d5d">[67%]</tspan><tspan fill="#2a2a2a" stroke="#2a2a2a"> novel)</tspan></text>
<rect x="426.90" y="284.00" width="88.90" height="16.10" fill="#c9cbdf"/>
<text x="431.80" y="290.90" font-size="6.7" textLength="74.50" lengthAdjust="spacingAndGlyphs" stroke-width="0.04"><tspan fill="#c0284a" stroke="#c0284a" stroke-width="0.18">15</tspan><tspan fill="#2a2a2a" stroke="#2a2a2a"> benign or likely benign</tspan></text>
<text x="431.80" y="298.20" font-size="6.7" textLength="41.70" lengthAdjust="spacingAndGlyphs" stroke-width="0.04"><tspan fill="#4f6f60" stroke="#4f6f60">(5 </tspan><tspan fill="#3d7d5d" stroke="#3d7d5d">[33%]</tspan><tspan fill="#2a2a2a" stroke="#2a2a2a"> novel)</tspan></text>
<rect x="0.5" y="0.5" width="519" height="345" fill="none" stroke="#000" stroke-width="1"/>
</svg>
</body></html>
